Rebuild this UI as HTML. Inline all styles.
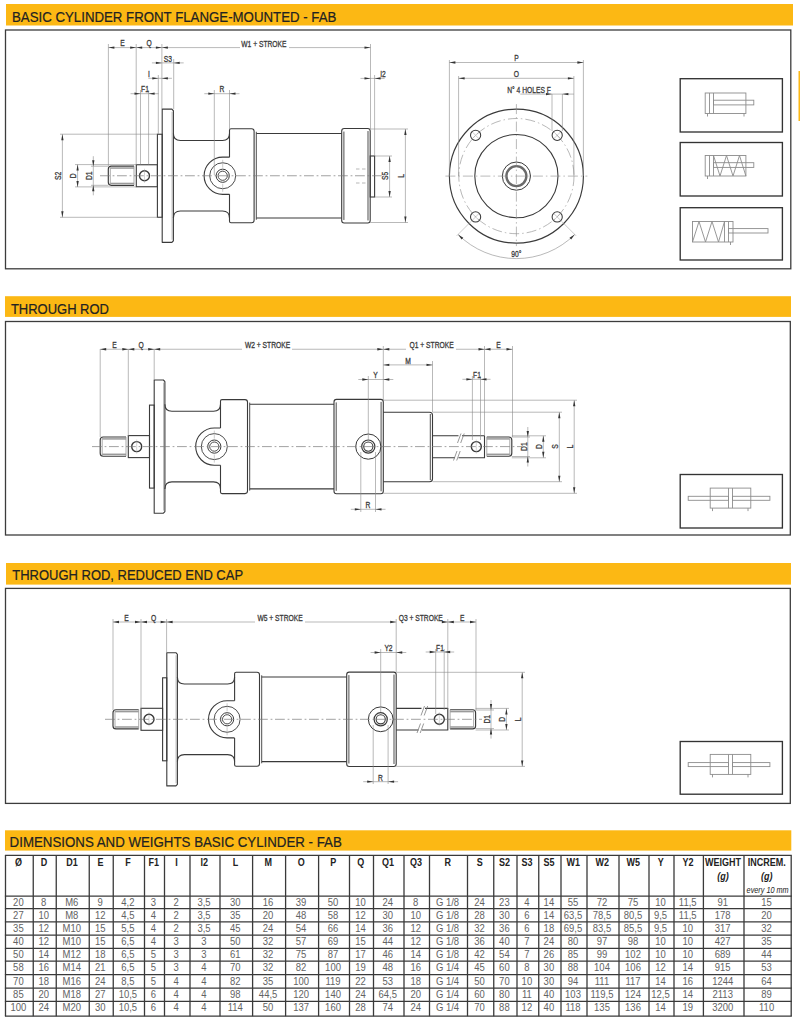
<!DOCTYPE html>
<html><head><meta charset="utf-8"><style>
html,body{margin:0;padding:0;background:#fff;}
body{width:800px;height:1021px;overflow:hidden;position:relative;font-family:"Liberation Sans",sans-serif;}
svg{position:absolute;left:0;top:0;}
svg text{font-family:"Liberation Sans",sans-serif;}
</style></head><body>
<svg width="800" height="1021" viewBox="0 0 800 1021">
<rect x="6" y="4" width="787" height="21.5" fill="#FCB814"/>
<text x="0" y="0" transform="translate(12,21.9) scale(0.9405,1)" font-size="14.1" fill="#222" stroke="#222" stroke-width="0.2">BASIC CYLINDER FRONT FLANGE-MOUNTED - FAB</text>
<rect x="5.5" y="30" width="785.3" height="238.8" fill="none" stroke="#3c3c3c" stroke-width="1.3"/>
<rect x="798.5" y="71" width="2" height="50" fill="#FCB814"/>
<rect x="5" y="296.2" width="786" height="20.7" fill="#FCB814"/>
<text x="0" y="0" transform="translate(10.9,313.6) scale(0.935,1)" font-size="13.9" fill="#222" stroke="#222" stroke-width="0.2">THROUGH ROD</text>
<rect x="5.5" y="321.5" width="784.8" height="213.5" fill="none" stroke="#3c3c3c" stroke-width="1.3"/>
<rect x="6" y="563" width="785" height="21.6" fill="#FCB814"/>
<text x="0" y="0" transform="translate(12.3,580.4) scale(0.935,1)" font-size="13.9" fill="#222" stroke="#222" stroke-width="0.2">THROUGH ROD, REDUCED END CAP</text>
<rect x="5.5" y="588.4" width="784.8" height="215" fill="none" stroke="#3c3c3c" stroke-width="1.3"/>
<rect x="5" y="830.3" width="786.3" height="20.3" fill="#FCB814"/>
<text x="0" y="0" transform="translate(9.6,847) scale(0.9436,1)" font-size="14.1" fill="#222" stroke="#222" stroke-width="0.2">DIMENSIONS AND WEIGHTS BASIC CYLINDER - FAB</text>
<path d="M134.0,166.15 L111.3,166.15 Q108.3,166.15 108.3,169.15 L108.3,182.35 Q108.3,185.35 111.3,185.35 L134.0,185.35" stroke="#3a3a3a" stroke-width="1.15" fill="none" stroke-linejoin="round"/>
<line x1="134.00" y1="166.15" x2="134.00" y2="185.35" stroke="#888" stroke-width="0.7" />
<line x1="110.50" y1="168.05" x2="134.00" y2="168.05" stroke="#9a9a9a" stroke-width="1.5" />
<line x1="110.50" y1="183.45" x2="134.00" y2="183.45" stroke="#9a9a9a" stroke-width="1.5" />
<line x1="110.30" y1="167.35" x2="110.30" y2="184.15" stroke="#888" stroke-width="0.7" />
<rect x="136.30" y="164.75" width="21.10" height="22.00" rx="0" stroke="#3a3a3a" stroke-width="1.1" fill="none"/>
<circle cx="144.50" cy="175.75" r="5.00" stroke="#3a3a3a" stroke-width="1.4" fill="none" />
<line x1="144.50" y1="168.75" x2="144.50" y2="182.75" stroke="#aaa" stroke-width="0.5" />
<rect x="157.40" y="134.25" width="4.80" height="83.00" rx="0" stroke="#3a3a3a" stroke-width="1.1" fill="none"/>
<path d="M162.2,109.15 L171.9,109.15 L173.4,110.75 L173.4,240.75 L171.9,242.35 L162.2,242.35 Z" stroke="#3a3a3a" stroke-width="1.1" fill="none" stroke-linejoin="round"/>
<line x1="172.10" y1="111.75" x2="172.10" y2="239.75" stroke="#888" stroke-width="0.6" />
<path d="M173.4,133.45 Q173.4,140.45 180.4,140.45 L222.5,140.45 Q229.5,140.45 229.5,133.45" stroke="#3a3a3a" stroke-width="1.1" fill="none" stroke-linejoin="round"/>
<path d="M173.4,218.05 Q173.4,211.05 180.4,211.05 L222.5,211.05 Q229.5,211.05 229.5,218.05" stroke="#3a3a3a" stroke-width="1.1" fill="none" stroke-linejoin="round"/>
<path d="M229.5,157.15 L229.5,130.25 Q229.5,128.75 231.0,128.75 L251.6,128.75 Q254.1,128.75 254.1,131.25 L254.1,220.25 Q254.1,222.75 251.6,222.75 L231.0,222.75 Q229.5,222.75 229.5,221.25 L229.5,194.35" stroke="#3a3a3a" stroke-width="1.1" fill="none" stroke-linejoin="round"/>
<path d="M229.5,157.15 L222.7,157.15 A18.6,18.6 0 0 0 222.7,194.35 L229.5,194.35" stroke="#3a3a3a" stroke-width="1.1" fill="none" stroke-linejoin="round"/>
<circle cx="222.70" cy="175.75" r="13.00" stroke="#3a3a3a" stroke-width="0.9" fill="none" />
<circle cx="222.70" cy="175.75" r="6.60" stroke="#3a3a3a" stroke-width="1.0" fill="none" />
<circle cx="222.70" cy="175.75" r="4.60" stroke="#3a3a3a" stroke-width="0.9" fill="none" />
<line x1="222.70" y1="159.75" x2="222.70" y2="167.75" stroke="#999" stroke-width="0.5" />
<line x1="222.70" y1="183.75" x2="222.70" y2="191.75" stroke="#999" stroke-width="0.5" />
<line x1="256.30" y1="131.75" x2="256.30" y2="219.75" stroke="#3a3a3a" stroke-width="0.9" />
<line x1="256.40" y1="133.45" x2="341.70" y2="133.45" stroke="#3a3a3a" stroke-width="1.1" />
<line x1="256.40" y1="218.05" x2="341.70" y2="218.05" stroke="#3a3a3a" stroke-width="1.1" />
<path d="M344.2,128.55 L367.7,128.55 Q370.2,128.55 370.2,131.05 L370.2,220.45 Q370.2,222.95 367.7,222.95 L344.2,222.95 Q341.7,222.95 341.7,220.45 L341.7,131.05 Q341.7,128.55 344.2,128.55 Z" stroke="#3a3a3a" stroke-width="1.1" fill="none" stroke-linejoin="round"/>
<line x1="343.90" y1="131.55" x2="343.90" y2="219.95" stroke="#3a3a3a" stroke-width="0.9" />
<line x1="368.00" y1="131.05" x2="368.00" y2="220.45" stroke="#3a3a3a" stroke-width="0.9" />
<rect x="370.20" y="156.00" width="4.40" height="41.00" rx="0" stroke="#3a3a3a" stroke-width="1.1" fill="none"/>
<line x1="356.00" y1="169.00" x2="359.50" y2="169.00" stroke="#999" stroke-width="0.7" />
<line x1="362.00" y1="169.00" x2="365.50" y2="169.00" stroke="#999" stroke-width="0.7" />
<line x1="356.00" y1="183.00" x2="359.50" y2="183.00" stroke="#999" stroke-width="0.7" />
<line x1="362.00" y1="183.00" x2="365.50" y2="183.00" stroke="#999" stroke-width="0.7" />
<line x1="100.00" y1="175.75" x2="382.00" y2="175.75" stroke="#7a7a7a" stroke-width="0.7" stroke-dasharray="9.8,2.8,1.8,2.6"/>
<line x1="108.40" y1="44.00" x2="108.40" y2="166.00" stroke="#8a8a8a" stroke-width="0.6" />
<line x1="136.20" y1="44.00" x2="136.20" y2="164.50" stroke="#8a8a8a" stroke-width="0.6" />
<line x1="140.50" y1="90.00" x2="140.50" y2="164.50" stroke="#8a8a8a" stroke-width="0.6" />
<line x1="148.60" y1="90.00" x2="148.60" y2="164.50" stroke="#8a8a8a" stroke-width="0.6" />
<line x1="158.30" y1="75.00" x2="158.30" y2="134.00" stroke="#8a8a8a" stroke-width="0.6" />
<line x1="161.90" y1="44.00" x2="161.90" y2="109.00" stroke="#8a8a8a" stroke-width="0.6" />
<line x1="173.70" y1="59.00" x2="173.70" y2="109.00" stroke="#8a8a8a" stroke-width="0.6" />
<line x1="214.30" y1="90.00" x2="214.30" y2="175.00" stroke="#8a8a8a" stroke-width="0.6" />
<line x1="229.50" y1="90.00" x2="229.50" y2="129.00" stroke="#8a8a8a" stroke-width="0.6" />
<line x1="370.50" y1="44.00" x2="370.50" y2="129.00" stroke="#8a8a8a" stroke-width="0.6" />
<line x1="374.60" y1="75.00" x2="374.60" y2="156.00" stroke="#8a8a8a" stroke-width="0.6" />
<line x1="108.40" y1="47.60" x2="136.20" y2="47.60" stroke="#8a8a8a" stroke-width="0.6" />
<polygon points="108.40,47.60 114.40,46.45 114.40,48.75" fill="#333"/>
<polygon points="136.20,47.60 130.20,46.45 130.20,48.75" fill="#333"/>
<line x1="136.20" y1="47.60" x2="161.90" y2="47.60" stroke="#8a8a8a" stroke-width="0.6" />
<polygon points="136.20,47.60 142.20,46.45 142.20,48.75" fill="#333"/>
<polygon points="161.90,47.60 155.90,46.45 155.90,48.75" fill="#333"/>
<line x1="161.90" y1="47.60" x2="240.00" y2="47.60" stroke="#8a8a8a" stroke-width="0.6" />
<line x1="289.00" y1="47.60" x2="370.50" y2="47.60" stroke="#8a8a8a" stroke-width="0.6" />
<polygon points="161.90,47.60 167.90,46.45 167.90,48.75" fill="#333"/>
<polygon points="370.50,47.60 364.50,46.45 364.50,48.75" fill="#333"/>
<text x="0" y="0" transform="translate(122.50,46.40) scale(0.78,1)" font-size="8.6" text-anchor="middle" fill="#3a3a3a" stroke="#3a3a3a" stroke-width="0.3" font-weight="normal">E</text>
<text x="0" y="0" transform="translate(149.00,46.40) scale(0.78,1)" font-size="8.6" text-anchor="middle" fill="#3a3a3a" stroke="#3a3a3a" stroke-width="0.3" font-weight="normal">Q</text>
<text x="0" y="0" transform="translate(263.90,46.60) scale(0.78,1)" font-size="8.6" text-anchor="middle" fill="#3a3a3a" stroke="#3a3a3a" stroke-width="0.3" font-weight="normal">W1 + STROKE</text>
<line x1="151.90" y1="62.90" x2="183.70" y2="62.90" stroke="#8a8a8a" stroke-width="0.6" />
<polygon points="161.90,62.90 155.90,61.75 155.90,64.05" fill="#333"/>
<polygon points="173.70,62.90 179.70,61.75 179.70,64.05" fill="#333"/>
<text x="0" y="0" transform="translate(167.80,61.50) scale(0.78,1)" font-size="8.6" text-anchor="middle" fill="#3a3a3a" stroke="#3a3a3a" stroke-width="0.3" font-weight="normal">S3</text>
<line x1="148.30" y1="78.30" x2="171.90" y2="78.30" stroke="#8a8a8a" stroke-width="0.6" />
<polygon points="158.30,78.30 152.30,77.15 152.30,79.45" fill="#333"/>
<polygon points="161.90,78.30 167.90,77.15 167.90,79.45" fill="#333"/>
<text x="0" y="0" transform="translate(149.00,76.90) scale(0.78,1)" font-size="8.6" text-anchor="middle" fill="#3a3a3a" stroke="#3a3a3a" stroke-width="0.3" font-weight="normal">I</text>
<line x1="130.50" y1="93.70" x2="158.60" y2="93.70" stroke="#8a8a8a" stroke-width="0.6" />
<polygon points="140.50,93.70 134.50,92.55 134.50,94.85" fill="#333"/>
<polygon points="148.60,93.70 154.60,92.55 154.60,94.85" fill="#333"/>
<text x="0" y="0" transform="translate(145.00,92.30) scale(0.78,1)" font-size="8.6" text-anchor="middle" fill="#3a3a3a" stroke="#3a3a3a" stroke-width="0.3" font-weight="normal">F1</text>
<line x1="204.30" y1="93.70" x2="239.50" y2="93.70" stroke="#8a8a8a" stroke-width="0.6" />
<polygon points="214.30,93.70 208.30,92.55 208.30,94.85" fill="#333"/>
<polygon points="229.50,93.70 235.50,92.55 235.50,94.85" fill="#333"/>
<text x="0" y="0" transform="translate(222.00,92.30) scale(0.78,1)" font-size="8.6" text-anchor="middle" fill="#3a3a3a" stroke="#3a3a3a" stroke-width="0.3" font-weight="normal">R</text>
<line x1="360.50" y1="78.40" x2="384.60" y2="78.40" stroke="#8a8a8a" stroke-width="0.6" />
<polygon points="370.50,78.40 364.50,77.25 364.50,79.55" fill="#333"/>
<polygon points="374.60,78.40 380.60,77.25 380.60,79.55" fill="#333"/>
<text x="0" y="0" transform="translate(383.00,77.00) scale(0.78,1)" font-size="8.6" text-anchor="middle" fill="#3a3a3a" stroke="#3a3a3a" stroke-width="0.3" font-weight="normal">I2</text>
<line x1="60.00" y1="134.20" x2="157.40" y2="134.20" stroke="#8a8a8a" stroke-width="0.6" />
<line x1="60.00" y1="217.30" x2="157.40" y2="217.30" stroke="#8a8a8a" stroke-width="0.6" />
<line x1="62.40" y1="134.20" x2="62.40" y2="217.30" stroke="#8a8a8a" stroke-width="0.6" />
<polygon points="62.40,134.20 61.25,140.20 63.55,140.20" fill="#333"/>
<polygon points="62.40,217.30 61.25,211.30 63.55,211.30" fill="#333"/>
<text x="0" y="0" transform="translate(61.20,175.80) rotate(-90) scale(0.78,1)" font-size="8.6" text-anchor="middle" fill="#3a3a3a" stroke="#3a3a3a" stroke-width="0.3" font-weight="normal">S2</text>
<line x1="75.00" y1="164.60" x2="136.30" y2="164.60" stroke="#8a8a8a" stroke-width="0.6" />
<line x1="75.00" y1="186.90" x2="136.30" y2="186.90" stroke="#8a8a8a" stroke-width="0.6" />
<line x1="77.60" y1="164.60" x2="77.60" y2="186.90" stroke="#8a8a8a" stroke-width="0.6" />
<polygon points="77.60,164.60 76.45,170.60 78.75,170.60" fill="#333"/>
<polygon points="77.60,186.90 76.45,180.90 78.75,180.90" fill="#333"/>
<text x="0" y="0" transform="translate(76.40,175.80) rotate(-90) scale(0.78,1)" font-size="8.6" text-anchor="middle" fill="#3a3a3a" stroke="#3a3a3a" stroke-width="0.3" font-weight="normal">D</text>
<line x1="91.00" y1="166.20" x2="108.40" y2="166.20" stroke="#8a8a8a" stroke-width="0.6" />
<line x1="91.00" y1="185.30" x2="108.40" y2="185.30" stroke="#8a8a8a" stroke-width="0.6" />
<line x1="93.30" y1="156.20" x2="93.30" y2="195.30" stroke="#8a8a8a" stroke-width="0.6" />
<polygon points="93.30,166.20 92.15,160.20 94.45,160.20" fill="#333"/>
<polygon points="93.30,185.30 92.15,191.30 94.45,191.30" fill="#333"/>
<text x="0" y="0" transform="translate(92.10,175.80) rotate(-90) scale(0.78,1)" font-size="8.6" text-anchor="middle" fill="#3a3a3a" stroke="#3a3a3a" stroke-width="0.3" font-weight="normal">D1</text>
<line x1="374.60" y1="156.00" x2="392.00" y2="156.00" stroke="#8a8a8a" stroke-width="0.6" />
<line x1="374.60" y1="197.00" x2="392.00" y2="197.00" stroke="#8a8a8a" stroke-width="0.6" />
<line x1="389.60" y1="156.00" x2="389.60" y2="197.00" stroke="#8a8a8a" stroke-width="0.6" />
<polygon points="389.60,156.00 388.45,162.00 390.75,162.00" fill="#333"/>
<polygon points="389.60,197.00 388.45,191.00 390.75,191.00" fill="#333"/>
<text x="0" y="0" transform="translate(388.40,175.80) rotate(-90) scale(0.78,1)" font-size="8.6" text-anchor="middle" fill="#3a3a3a" stroke="#3a3a3a" stroke-width="0.3" font-weight="normal">S5</text>
<line x1="370.20" y1="129.00" x2="408.00" y2="129.00" stroke="#8a8a8a" stroke-width="0.6" />
<line x1="370.20" y1="222.50" x2="408.00" y2="222.50" stroke="#8a8a8a" stroke-width="0.6" />
<line x1="405.40" y1="129.00" x2="405.40" y2="222.50" stroke="#8a8a8a" stroke-width="0.6" />
<polygon points="405.40,129.00 404.25,135.00 406.55,135.00" fill="#333"/>
<polygon points="405.40,222.50 404.25,216.50 406.55,216.50" fill="#333"/>
<text x="0" y="0" transform="translate(404.20,175.80) rotate(-90) scale(0.78,1)" font-size="8.6" text-anchor="middle" fill="#3a3a3a" stroke="#3a3a3a" stroke-width="0.3" font-weight="normal">L</text>
<circle cx="516.40" cy="176.10" r="67.00" stroke="#3a3a3a" stroke-width="1.15" fill="none" />
<circle cx="516.40" cy="176.10" r="57.60" stroke="#9a9a9a" stroke-width="0.7" fill="none" stroke-dasharray="10,3,1.5,3"/>
<circle cx="516.40" cy="176.10" r="41.60" stroke="#3a3a3a" stroke-width="1.1" fill="none" />
<circle cx="516.40" cy="176.10" r="14.10" stroke="#3a3a3a" stroke-width="1.0" fill="none" />
<circle cx="516.40" cy="176.10" r="10.00" stroke="#6a6a6a" stroke-width="2.4" fill="none" />
<line x1="445.40" y1="176.10" x2="587.40" y2="176.10" stroke="#8a8a8a" stroke-width="0.6" stroke-dasharray="10,3,1.5,3"/>
<line x1="516.40" y1="104.10" x2="516.40" y2="246.10" stroke="#8a8a8a" stroke-width="0.6" stroke-dasharray="10,3,1.5,3"/>
<circle cx="475.60" cy="135.30" r="5.10" stroke="#3a3a3a" stroke-width="1.05" fill="none" />
<line x1="472.00" y1="131.70" x2="479.20" y2="138.90" stroke="#999" stroke-width="0.5" />
<line x1="472.00" y1="138.90" x2="479.20" y2="131.70" stroke="#999" stroke-width="0.5" />
<circle cx="475.60" cy="216.90" r="5.10" stroke="#3a3a3a" stroke-width="1.05" fill="none" />
<line x1="472.00" y1="213.30" x2="479.20" y2="220.50" stroke="#999" stroke-width="0.5" />
<line x1="472.00" y1="220.50" x2="479.20" y2="213.30" stroke="#999" stroke-width="0.5" />
<circle cx="557.20" cy="135.30" r="5.10" stroke="#3a3a3a" stroke-width="1.05" fill="none" />
<line x1="553.60" y1="131.70" x2="560.80" y2="138.90" stroke="#999" stroke-width="0.5" />
<line x1="553.60" y1="138.90" x2="560.80" y2="131.70" stroke="#999" stroke-width="0.5" />
<circle cx="557.20" cy="216.90" r="5.10" stroke="#3a3a3a" stroke-width="1.05" fill="none" />
<line x1="553.60" y1="213.30" x2="560.80" y2="220.50" stroke="#999" stroke-width="0.5" />
<line x1="553.60" y1="220.50" x2="560.80" y2="213.30" stroke="#999" stroke-width="0.5" />
<line x1="449.40" y1="60.00" x2="449.40" y2="176.00" stroke="#8a8a8a" stroke-width="0.6" />
<line x1="583.40" y1="60.00" x2="583.40" y2="176.00" stroke="#8a8a8a" stroke-width="0.6" />
<line x1="449.40" y1="62.50" x2="583.40" y2="62.50" stroke="#8a8a8a" stroke-width="0.6" />
<polygon points="449.40,62.50 455.40,61.35 455.40,63.65" fill="#333"/>
<polygon points="583.40,62.50 577.40,61.35 577.40,63.65" fill="#333"/>
<text x="0" y="0" transform="translate(516.40,61.20) scale(0.78,1)" font-size="8.6" text-anchor="middle" fill="#3a3a3a" stroke="#3a3a3a" stroke-width="0.3" font-weight="normal">P</text>
<line x1="458.60" y1="76.00" x2="458.60" y2="176.00" stroke="#8a8a8a" stroke-width="0.6" />
<line x1="573.90" y1="76.00" x2="573.90" y2="176.00" stroke="#8a8a8a" stroke-width="0.6" />
<line x1="458.60" y1="78.30" x2="573.90" y2="78.30" stroke="#8a8a8a" stroke-width="0.6" />
<polygon points="458.60,78.30 464.60,77.15 464.60,79.45" fill="#333"/>
<polygon points="573.90,78.30 567.90,77.15 567.90,79.45" fill="#333"/>
<text x="0" y="0" transform="translate(516.40,77.00) scale(0.78,1)" font-size="8.6" text-anchor="middle" fill="#3a3a3a" stroke="#3a3a3a" stroke-width="0.3" font-weight="normal">O</text>
<line x1="552.00" y1="94.00" x2="552.00" y2="131.00" stroke="#8a8a8a" stroke-width="0.6" />
<line x1="562.40" y1="94.00" x2="562.40" y2="131.00" stroke="#8a8a8a" stroke-width="0.6" />
<line x1="520.30" y1="94.10" x2="573.90" y2="94.10" stroke="#8a8a8a" stroke-width="0.6" />
<polygon points="552.00,94.10 546.00,92.95 546.00,95.25" fill="#333"/>
<polygon points="562.40,94.10 568.40,92.95 568.40,95.25" fill="#333"/>
<text x="0" y="0" transform="translate(529.00,92.70) scale(0.78,1)" font-size="8.6" text-anchor="middle" fill="#3a3a3a" stroke="#3a3a3a" stroke-width="0.3" font-weight="normal">N° 4 HOLES F</text>
<path d="M458.06,234.44 A82.5,82.5 0 0 0 574.74,234.44" stroke="#8a8a8a" stroke-width="0.6" fill="none"/>
<line x1="471.15" y1="221.35" x2="456.65" y2="235.85" stroke="#aaa" stroke-width="0.6" />
<line x1="561.65" y1="221.35" x2="576.15" y2="235.85" stroke="#aaa" stroke-width="0.6" />
<text x="0" y="0" transform="translate(516.40,256.70) scale(0.78,1)" font-size="8.6" text-anchor="middle" fill="#3a3a3a" stroke="#3a3a3a" stroke-width="0.3" font-weight="normal">90°</text>
<polygon points="458.06,234.44 461.63,239.41 463.27,237.65" fill="#333"/>
<polygon points="574.74,234.44 569.53,237.65 571.17,239.41" fill="#333"/>
<path d="M126.00000000000001,437.0 L103.2,437.0 Q100.2,437.0 100.2,440.0 L100.2,453.20000000000005 Q100.2,456.20000000000005 103.2,456.20000000000005 L126.00000000000001,456.20000000000005" stroke="#3a3a3a" stroke-width="1.15" fill="none" stroke-linejoin="round"/>
<line x1="126.00" y1="437.00" x2="126.00" y2="456.20" stroke="#888" stroke-width="0.7" />
<line x1="102.40" y1="438.90" x2="126.00" y2="438.90" stroke="#9a9a9a" stroke-width="1.5" />
<line x1="102.40" y1="454.30" x2="126.00" y2="454.30" stroke="#9a9a9a" stroke-width="1.5" />
<line x1="102.20" y1="438.20" x2="102.20" y2="455.00" stroke="#888" stroke-width="0.7" />
<rect x="128.30" y="435.60" width="21.20" height="22.00" rx="0" stroke="#3a3a3a" stroke-width="1.1" fill="none"/>
<circle cx="136.70" cy="446.60" r="5.00" stroke="#3a3a3a" stroke-width="1.4" fill="none" />
<line x1="136.70" y1="439.60" x2="136.70" y2="453.60" stroke="#aaa" stroke-width="0.5" />
<rect x="149.50" y="405.10" width="4.70" height="83.00" rx="0" stroke="#3a3a3a" stroke-width="1.1" fill="none"/>
<path d="M154.2,380.0 L163.4,380.0 L164.9,381.6 L164.9,511.6 L163.4,513.2 L154.2,513.2 Z" stroke="#3a3a3a" stroke-width="1.1" fill="none" stroke-linejoin="round"/>
<line x1="163.60" y1="382.60" x2="163.60" y2="510.60" stroke="#888" stroke-width="0.6" />
<path d="M164.9,404.3 Q164.9,411.3 171.9,411.3 L213.5,411.3 Q220.5,411.3 220.5,404.3" stroke="#3a3a3a" stroke-width="1.1" fill="none" stroke-linejoin="round"/>
<path d="M164.9,488.90000000000003 Q164.9,481.90000000000003 171.9,481.90000000000003 L213.5,481.90000000000003 Q220.5,481.90000000000003 220.5,488.90000000000003" stroke="#3a3a3a" stroke-width="1.1" fill="none" stroke-linejoin="round"/>
<path d="M220.5,428.0 L220.5,401.1 Q220.5,399.6 222.0,399.6 L245.0,399.6 Q247.5,399.6 247.5,402.1 L247.5,491.1 Q247.5,493.6 245.0,493.6 L222.0,493.6 Q220.5,493.6 220.5,492.1 L220.5,465.20000000000005" stroke="#3a3a3a" stroke-width="1.1" fill="none" stroke-linejoin="round"/>
<path d="M220.5,428.0 L214.3,428.0 A18.6,18.6 0 0 0 214.3,465.20000000000005 L220.5,465.20000000000005" stroke="#3a3a3a" stroke-width="1.1" fill="none" stroke-linejoin="round"/>
<circle cx="214.30" cy="446.60" r="13.00" stroke="#3a3a3a" stroke-width="0.9" fill="none" />
<circle cx="214.30" cy="446.60" r="6.60" stroke="#3a3a3a" stroke-width="1.0" fill="none" />
<circle cx="214.30" cy="446.60" r="4.60" stroke="#3a3a3a" stroke-width="0.9" fill="none" />
<line x1="214.30" y1="430.60" x2="214.30" y2="438.60" stroke="#999" stroke-width="0.5" />
<line x1="214.30" y1="454.60" x2="214.30" y2="462.60" stroke="#999" stroke-width="0.5" />
<line x1="249.70" y1="402.60" x2="249.70" y2="490.60" stroke="#3a3a3a" stroke-width="0.9" />
<line x1="249.80" y1="404.30" x2="334.00" y2="404.30" stroke="#3a3a3a" stroke-width="1.1" />
<line x1="249.80" y1="488.90" x2="334.00" y2="488.90" stroke="#3a3a3a" stroke-width="1.1" />
<path d="M336.5,399.40000000000003 L380.8,399.40000000000003 Q383.3,399.40000000000003 383.3,401.90000000000003 L383.3,491.3 Q383.3,493.8 380.8,493.8 L336.5,493.8 Q334,493.8 334,491.3 L334,401.90000000000003 Q334,399.40000000000003 336.5,399.40000000000003 Z" stroke="#3a3a3a" stroke-width="1.1" fill="none" stroke-linejoin="round"/>
<line x1="336.20" y1="402.40" x2="336.20" y2="490.80" stroke="#3a3a3a" stroke-width="0.9" />
<line x1="381.10" y1="401.90" x2="381.10" y2="491.30" stroke="#3a3a3a" stroke-width="0.9" />
<circle cx="368.30" cy="446.60" r="12.60" stroke="#3a3a3a" stroke-width="1.0" fill="none" />
<circle cx="368.30" cy="446.60" r="6.60" stroke="#3a3a3a" stroke-width="1.2" fill="none" />
<circle cx="368.30" cy="446.60" r="4.60" stroke="#3a3a3a" stroke-width="1.1" fill="none" />
<path d="M383.3,412.2 L429.5,412.2 Q432.5,412.2 432.5,415.2 L432.5,478.7 Q432.5,481.7 429.5,481.7 L383.3,481.7" stroke="#3a3a3a" stroke-width="1.1" fill="none" stroke-linejoin="round"/>
<line x1="430.30" y1="414.00" x2="430.30" y2="480.00" stroke="#3a3a3a" stroke-width="0.9" />
<path d="M432.5,435.8 L458.5,435.8 M462,435.8 L484.5,435.8 L484.5,457.8 L458.5,457.8 M455,457.8 L432.5,457.8" stroke="#3a3a3a" stroke-width="1.1" fill="none" stroke-linejoin="round"/>
<line x1="457.50" y1="443.00" x2="461.00" y2="433.50" stroke="#777" stroke-width="0.75" />
<line x1="453.50" y1="460.50" x2="457.00" y2="451.00" stroke="#777" stroke-width="0.75" />
<line x1="460.70" y1="443.00" x2="464.20" y2="433.50" stroke="#777" stroke-width="0.75" />
<line x1="456.70" y1="460.50" x2="460.20" y2="451.00" stroke="#777" stroke-width="0.75" />
<circle cx="476.30" cy="446.60" r="5.00" stroke="#3a3a3a" stroke-width="1.4" fill="none" />
<line x1="476.30" y1="439.60" x2="476.30" y2="453.60" stroke="#aaa" stroke-width="0.5" />
<path d="M486.8,437.0 L508.8,437.0 Q511.8,437.0 511.8,440.0 L511.8,453.20000000000005 Q511.8,456.20000000000005 508.8,456.20000000000005 L486.8,456.20000000000005" stroke="#3a3a3a" stroke-width="1.15" fill="none" stroke-linejoin="round"/>
<line x1="486.80" y1="437.00" x2="486.80" y2="456.20" stroke="#888" stroke-width="0.7" />
<line x1="486.80" y1="438.90" x2="509.60" y2="438.90" stroke="#9a9a9a" stroke-width="1.5" />
<line x1="486.80" y1="454.30" x2="509.60" y2="454.30" stroke="#9a9a9a" stroke-width="1.5" />
<line x1="509.80" y1="438.20" x2="509.80" y2="455.00" stroke="#888" stroke-width="0.7" />
<line x1="92.00" y1="446.60" x2="522.00" y2="446.60" stroke="#7a7a7a" stroke-width="0.7" stroke-dasharray="9.8,2.8,1.8,2.6"/>
<line x1="100.20" y1="349.00" x2="100.20" y2="437.00" stroke="#8a8a8a" stroke-width="0.6" />
<line x1="128.30" y1="349.00" x2="128.30" y2="436.00" stroke="#8a8a8a" stroke-width="0.6" />
<line x1="154.20" y1="349.00" x2="154.20" y2="380.00" stroke="#8a8a8a" stroke-width="0.6" />
<line x1="383.30" y1="346.00" x2="383.30" y2="400.00" stroke="#8a8a8a" stroke-width="0.6" />
<line x1="432.50" y1="361.00" x2="432.50" y2="412.00" stroke="#8a8a8a" stroke-width="0.6" />
<line x1="368.30" y1="376.00" x2="368.30" y2="440.00" stroke="#8a8a8a" stroke-width="0.6" />
<line x1="360.80" y1="452.00" x2="360.80" y2="512.00" stroke="#8a8a8a" stroke-width="0.6" />
<line x1="375.50" y1="452.00" x2="375.50" y2="512.00" stroke="#8a8a8a" stroke-width="0.6" />
<line x1="472.40" y1="376.00" x2="472.40" y2="440.00" stroke="#8a8a8a" stroke-width="0.6" />
<line x1="480.50" y1="376.00" x2="480.50" y2="440.00" stroke="#8a8a8a" stroke-width="0.6" />
<line x1="484.50" y1="346.00" x2="484.50" y2="436.00" stroke="#8a8a8a" stroke-width="0.6" />
<line x1="512.50" y1="346.00" x2="512.50" y2="437.00" stroke="#8a8a8a" stroke-width="0.6" />
<line x1="100.20" y1="349.25" x2="128.30" y2="349.25" stroke="#8a8a8a" stroke-width="0.6" />
<polygon points="100.20,349.25 106.20,348.10 106.20,350.40" fill="#333"/>
<polygon points="128.30,349.25 122.30,348.10 122.30,350.40" fill="#333"/>
<line x1="128.30" y1="349.25" x2="154.20" y2="349.25" stroke="#8a8a8a" stroke-width="0.6" />
<polygon points="128.30,349.25 134.30,348.10 134.30,350.40" fill="#333"/>
<polygon points="154.20,349.25 148.20,348.10 148.20,350.40" fill="#333"/>
<line x1="154.20" y1="349.25" x2="242.00" y2="349.25" stroke="#8a8a8a" stroke-width="0.6" />
<line x1="292.00" y1="349.25" x2="383.30" y2="349.25" stroke="#8a8a8a" stroke-width="0.6" />
<polygon points="154.20,349.25 160.20,348.10 160.20,350.40" fill="#333"/>
<polygon points="383.30,349.25 377.30,348.10 377.30,350.40" fill="#333"/>
<text x="0" y="0" transform="translate(114.40,347.60) scale(0.78,1)" font-size="8.6" text-anchor="middle" fill="#3a3a3a" stroke="#3a3a3a" stroke-width="0.3" font-weight="normal">E</text>
<text x="0" y="0" transform="translate(141.00,347.60) scale(0.78,1)" font-size="8.6" text-anchor="middle" fill="#3a3a3a" stroke="#3a3a3a" stroke-width="0.3" font-weight="normal">Q</text>
<text x="0" y="0" transform="translate(267.50,347.60) scale(0.78,1)" font-size="8.6" text-anchor="middle" fill="#3a3a3a" stroke="#3a3a3a" stroke-width="0.3" font-weight="normal">W2 + STROKE</text>
<line x1="383.30" y1="349.25" x2="406.00" y2="349.25" stroke="#8a8a8a" stroke-width="0.6" />
<line x1="456.00" y1="349.25" x2="484.50" y2="349.25" stroke="#8a8a8a" stroke-width="0.6" />
<polygon points="383.30,349.25 389.30,348.10 389.30,350.40" fill="#333"/>
<polygon points="484.50,349.25 478.50,348.10 478.50,350.40" fill="#333"/>
<text x="0" y="0" transform="translate(431.60,347.60) scale(0.78,1)" font-size="8.6" text-anchor="middle" fill="#3a3a3a" stroke="#3a3a3a" stroke-width="0.3" font-weight="normal">Q1 + STROKE</text>
<line x1="484.50" y1="349.25" x2="512.50" y2="349.25" stroke="#8a8a8a" stroke-width="0.6" />
<polygon points="484.50,349.25 490.50,348.10 490.50,350.40" fill="#333"/>
<polygon points="512.50,349.25 506.50,348.10 506.50,350.40" fill="#333"/>
<text x="0" y="0" transform="translate(498.60,347.60) scale(0.78,1)" font-size="8.6" text-anchor="middle" fill="#3a3a3a" stroke="#3a3a3a" stroke-width="0.3" font-weight="normal">E</text>
<line x1="383.30" y1="364.90" x2="432.50" y2="364.90" stroke="#8a8a8a" stroke-width="0.6" />
<polygon points="383.30,364.90 389.30,363.75 389.30,366.05" fill="#333"/>
<polygon points="432.50,364.90 426.50,363.75 426.50,366.05" fill="#333"/>
<text x="0" y="0" transform="translate(408.00,363.70) scale(0.78,1)" font-size="8.6" text-anchor="middle" fill="#3a3a3a" stroke="#3a3a3a" stroke-width="0.3" font-weight="normal">M</text>
<line x1="358.30" y1="379.50" x2="393.30" y2="379.50" stroke="#8a8a8a" stroke-width="0.6" />
<polygon points="368.30,379.50 362.30,378.35 362.30,380.65" fill="#333"/>
<polygon points="383.30,379.50 389.30,378.35 389.30,380.65" fill="#333"/>
<text x="0" y="0" transform="translate(375.50,378.30) scale(0.78,1)" font-size="8.6" text-anchor="middle" fill="#3a3a3a" stroke="#3a3a3a" stroke-width="0.3" font-weight="normal">Y</text>
<line x1="462.40" y1="379.30" x2="490.50" y2="379.30" stroke="#8a8a8a" stroke-width="0.6" />
<polygon points="472.40,379.30 466.40,378.15 466.40,380.45" fill="#333"/>
<polygon points="480.50,379.30 486.50,378.15 486.50,380.45" fill="#333"/>
<text x="0" y="0" transform="translate(477.00,378.10) scale(0.78,1)" font-size="8.6" text-anchor="middle" fill="#3a3a3a" stroke="#3a3a3a" stroke-width="0.3" font-weight="normal">F1</text>
<line x1="350.80" y1="509.30" x2="385.50" y2="509.30" stroke="#8a8a8a" stroke-width="0.6" />
<polygon points="360.80,509.30 354.80,508.15 354.80,510.45" fill="#333"/>
<polygon points="375.50,509.30 381.50,508.15 381.50,510.45" fill="#333"/>
<text x="0" y="0" transform="translate(368.00,508.10) scale(0.78,1)" font-size="8.6" text-anchor="middle" fill="#3a3a3a" stroke="#3a3a3a" stroke-width="0.3" font-weight="normal">R</text>
<line x1="383.30" y1="400.20" x2="577.00" y2="400.20" stroke="#8a8a8a" stroke-width="0.6" />
<line x1="383.30" y1="493.30" x2="577.00" y2="493.30" stroke="#8a8a8a" stroke-width="0.6" />
<line x1="574.20" y1="400.20" x2="574.20" y2="493.30" stroke="#8a8a8a" stroke-width="0.6" />
<polygon points="574.20,400.20 573.05,406.20 575.35,406.20" fill="#333"/>
<polygon points="574.20,493.30 573.05,487.30 575.35,487.30" fill="#333"/>
<text x="0" y="0" transform="translate(573.00,446.60) rotate(-90) scale(0.78,1)" font-size="8.6" text-anchor="middle" fill="#3a3a3a" stroke="#3a3a3a" stroke-width="0.3" font-weight="normal">L</text>
<line x1="432.50" y1="412.20" x2="562.00" y2="412.20" stroke="#8a8a8a" stroke-width="0.6" />
<line x1="432.50" y1="481.70" x2="562.00" y2="481.70" stroke="#8a8a8a" stroke-width="0.6" />
<line x1="559.30" y1="412.20" x2="559.30" y2="481.70" stroke="#8a8a8a" stroke-width="0.6" />
<polygon points="559.30,412.20 558.15,418.20 560.45,418.20" fill="#333"/>
<polygon points="559.30,481.70 558.15,475.70 560.45,475.70" fill="#333"/>
<text x="0" y="0" transform="translate(558.10,446.60) rotate(-90) scale(0.78,1)" font-size="8.6" text-anchor="middle" fill="#3a3a3a" stroke="#3a3a3a" stroke-width="0.3" font-weight="normal">S</text>
<line x1="511.80" y1="435.80" x2="546.00" y2="435.80" stroke="#8a8a8a" stroke-width="0.6" />
<line x1="511.80" y1="457.80" x2="546.00" y2="457.80" stroke="#8a8a8a" stroke-width="0.6" />
<line x1="543.30" y1="435.80" x2="543.30" y2="457.80" stroke="#8a8a8a" stroke-width="0.6" />
<polygon points="543.30,435.80 542.15,441.80 544.45,441.80" fill="#333"/>
<polygon points="543.30,457.80 542.15,451.80 544.45,451.80" fill="#333"/>
<text x="0" y="0" transform="translate(542.10,446.60) rotate(-90) scale(0.78,1)" font-size="8.6" text-anchor="middle" fill="#3a3a3a" stroke="#3a3a3a" stroke-width="0.3" font-weight="normal">D</text>
<line x1="511.80" y1="437.00" x2="530.00" y2="437.00" stroke="#8a8a8a" stroke-width="0.6" />
<line x1="511.80" y1="456.50" x2="530.00" y2="456.50" stroke="#8a8a8a" stroke-width="0.6" />
<line x1="527.80" y1="427.00" x2="527.80" y2="466.50" stroke="#8a8a8a" stroke-width="0.6" />
<polygon points="527.80,437.00 526.65,431.00 528.95,431.00" fill="#333"/>
<polygon points="527.80,456.50 526.65,462.50 528.95,462.50" fill="#333"/>
<text x="0" y="0" transform="translate(526.60,446.60) rotate(-90) scale(0.78,1)" font-size="8.6" text-anchor="middle" fill="#3a3a3a" stroke="#3a3a3a" stroke-width="0.3" font-weight="normal">D1</text>
<path d="M138.7,709.6999999999999 L116,709.6999999999999 Q113,709.6999999999999 113,712.6999999999999 L113,725.9 Q113,728.9 116,728.9 L138.7,728.9" stroke="#3a3a3a" stroke-width="1.15" fill="none" stroke-linejoin="round"/>
<line x1="138.70" y1="709.70" x2="138.70" y2="728.90" stroke="#888" stroke-width="0.7" />
<line x1="115.20" y1="711.60" x2="138.70" y2="711.60" stroke="#9a9a9a" stroke-width="1.5" />
<line x1="115.20" y1="727.00" x2="138.70" y2="727.00" stroke="#9a9a9a" stroke-width="1.5" />
<line x1="115.00" y1="710.90" x2="115.00" y2="727.70" stroke="#888" stroke-width="0.7" />
<rect x="141.00" y="708.30" width="21.60" height="22.00" rx="0" stroke="#3a3a3a" stroke-width="1.1" fill="none"/>
<circle cx="149.00" cy="719.30" r="5.00" stroke="#3a3a3a" stroke-width="1.4" fill="none" />
<line x1="149.00" y1="712.30" x2="149.00" y2="726.30" stroke="#aaa" stroke-width="0.5" />
<rect x="162.60" y="677.80" width="4.20" height="83.00" rx="0" stroke="#3a3a3a" stroke-width="1.1" fill="none"/>
<path d="M166.8,652.6999999999999 L175.9,652.6999999999999 L177.4,654.3 L177.4,784.3 L175.9,785.9 L166.8,785.9 Z" stroke="#3a3a3a" stroke-width="1.1" fill="none" stroke-linejoin="round"/>
<line x1="176.10" y1="655.30" x2="176.10" y2="783.30" stroke="#888" stroke-width="0.6" />
<path d="M177.4,677.0 Q177.4,684.0 184.4,684.0 L227.6,684.0 Q234.6,684.0 234.6,677.0" stroke="#3a3a3a" stroke-width="1.1" fill="none" stroke-linejoin="round"/>
<path d="M177.4,761.5999999999999 Q177.4,754.5999999999999 184.4,754.5999999999999 L227.6,754.5999999999999 Q234.6,754.5999999999999 234.6,761.5999999999999" stroke="#3a3a3a" stroke-width="1.1" fill="none" stroke-linejoin="round"/>
<path d="M234.6,700.6999999999999 L234.6,673.8 Q234.6,672.3 236.1,672.3 L257.0,672.3 Q259.5,672.3 259.5,674.8 L259.5,763.8 Q259.5,766.3 257.0,766.3 L236.1,766.3 Q234.6,766.3 234.6,764.8 L234.6,737.9" stroke="#3a3a3a" stroke-width="1.1" fill="none" stroke-linejoin="round"/>
<path d="M234.6,700.6999999999999 L227.1,700.6999999999999 A18.6,18.6 0 0 0 227.1,737.9 L234.6,737.9" stroke="#3a3a3a" stroke-width="1.1" fill="none" stroke-linejoin="round"/>
<circle cx="227.10" cy="719.30" r="13.00" stroke="#3a3a3a" stroke-width="0.9" fill="none" />
<circle cx="227.10" cy="719.30" r="6.60" stroke="#3a3a3a" stroke-width="1.0" fill="none" />
<circle cx="227.10" cy="719.30" r="4.60" stroke="#3a3a3a" stroke-width="0.9" fill="none" />
<line x1="227.10" y1="703.30" x2="227.10" y2="711.30" stroke="#999" stroke-width="0.5" />
<line x1="227.10" y1="727.30" x2="227.10" y2="735.30" stroke="#999" stroke-width="0.5" />
<line x1="261.70" y1="675.30" x2="261.70" y2="763.30" stroke="#3a3a3a" stroke-width="0.9" />
<line x1="261.80" y1="677.00" x2="346.70" y2="677.00" stroke="#3a3a3a" stroke-width="1.1" />
<line x1="261.80" y1="761.60" x2="346.70" y2="761.60" stroke="#3a3a3a" stroke-width="1.1" />
<path d="M349.2,672.0999999999999 L393.7,672.0999999999999 Q396.2,672.0999999999999 396.2,674.5999999999999 L396.2,764.0 Q396.2,766.5 393.7,766.5 L349.2,766.5 Q346.7,766.5 346.7,764.0 L346.7,674.5999999999999 Q346.7,672.0999999999999 349.2,672.0999999999999 Z" stroke="#3a3a3a" stroke-width="1.1" fill="none" stroke-linejoin="round"/>
<line x1="348.90" y1="675.10" x2="348.90" y2="763.50" stroke="#3a3a3a" stroke-width="0.9" />
<line x1="394.00" y1="674.60" x2="394.00" y2="764.00" stroke="#3a3a3a" stroke-width="0.9" />
<circle cx="380.70" cy="719.30" r="12.40" stroke="#3a3a3a" stroke-width="1.0" fill="none" />
<circle cx="380.70" cy="719.30" r="6.60" stroke="#3a3a3a" stroke-width="1.2" fill="none" />
<circle cx="380.70" cy="719.30" r="4.60" stroke="#3a3a3a" stroke-width="1.1" fill="none" />
<path d="M396.2,708.4 L421.5,708.4 M425,708.4 L447.8,708.4 L447.8,730 L422,730 M418.5,730 L396.2,730" stroke="#3a3a3a" stroke-width="1.1" fill="none" stroke-linejoin="round"/>
<line x1="421.00" y1="715.50" x2="424.50" y2="706.00" stroke="#777" stroke-width="0.75" />
<line x1="417.00" y1="733.00" x2="420.50" y2="723.50" stroke="#777" stroke-width="0.75" />
<line x1="424.20" y1="715.50" x2="427.70" y2="706.00" stroke="#777" stroke-width="0.75" />
<line x1="420.20" y1="733.00" x2="423.70" y2="723.50" stroke="#777" stroke-width="0.75" />
<circle cx="439.30" cy="719.30" r="5.00" stroke="#3a3a3a" stroke-width="1.4" fill="none" />
<line x1="439.30" y1="712.30" x2="439.30" y2="726.30" stroke="#aaa" stroke-width="0.5" />
<path d="M450.1,709.6999999999999 L472.6,709.6999999999999 Q475.6,709.6999999999999 475.6,712.6999999999999 L475.6,725.9 Q475.6,728.9 472.6,728.9 L450.1,728.9" stroke="#3a3a3a" stroke-width="1.15" fill="none" stroke-linejoin="round"/>
<line x1="450.10" y1="709.70" x2="450.10" y2="728.90" stroke="#888" stroke-width="0.7" />
<line x1="450.10" y1="711.60" x2="473.40" y2="711.60" stroke="#9a9a9a" stroke-width="1.5" />
<line x1="450.10" y1="727.00" x2="473.40" y2="727.00" stroke="#9a9a9a" stroke-width="1.5" />
<line x1="473.60" y1="710.90" x2="473.60" y2="727.70" stroke="#888" stroke-width="0.7" />
<line x1="105.00" y1="719.30" x2="482.00" y2="719.30" stroke="#7a7a7a" stroke-width="0.7" stroke-dasharray="9.8,2.8,1.8,2.6"/>
<line x1="113.00" y1="619.00" x2="113.00" y2="710.00" stroke="#8a8a8a" stroke-width="0.6" />
<line x1="141.00" y1="619.00" x2="141.00" y2="709.00" stroke="#8a8a8a" stroke-width="0.6" />
<line x1="166.60" y1="619.00" x2="166.60" y2="653.00" stroke="#8a8a8a" stroke-width="0.6" />
<line x1="396.20" y1="619.00" x2="396.20" y2="672.00" stroke="#8a8a8a" stroke-width="0.6" />
<line x1="380.70" y1="649.00" x2="380.70" y2="712.00" stroke="#8a8a8a" stroke-width="0.6" />
<line x1="373.20" y1="725.00" x2="373.20" y2="784.00" stroke="#8a8a8a" stroke-width="0.6" />
<line x1="388.10" y1="725.00" x2="388.10" y2="784.00" stroke="#8a8a8a" stroke-width="0.6" />
<line x1="435.70" y1="649.00" x2="435.70" y2="714.00" stroke="#8a8a8a" stroke-width="0.6" />
<line x1="444.20" y1="649.00" x2="444.20" y2="710.00" stroke="#8a8a8a" stroke-width="0.6" />
<line x1="447.80" y1="619.00" x2="447.80" y2="709.00" stroke="#8a8a8a" stroke-width="0.6" />
<line x1="476.00" y1="619.00" x2="476.00" y2="710.00" stroke="#8a8a8a" stroke-width="0.6" />
<line x1="113.00" y1="622.00" x2="141.00" y2="622.00" stroke="#8a8a8a" stroke-width="0.6" />
<polygon points="113.00,622.00 119.00,620.85 119.00,623.15" fill="#333"/>
<polygon points="141.00,622.00 135.00,620.85 135.00,623.15" fill="#333"/>
<line x1="141.00" y1="622.00" x2="166.60" y2="622.00" stroke="#8a8a8a" stroke-width="0.6" />
<polygon points="141.00,622.00 147.00,620.85 147.00,623.15" fill="#333"/>
<polygon points="166.60,622.00 160.60,620.85 160.60,623.15" fill="#333"/>
<line x1="166.60" y1="622.00" x2="255.00" y2="622.00" stroke="#8a8a8a" stroke-width="0.6" />
<line x1="305.00" y1="622.00" x2="396.20" y2="622.00" stroke="#8a8a8a" stroke-width="0.6" />
<polygon points="166.60,622.00 172.60,620.85 172.60,623.15" fill="#333"/>
<polygon points="396.20,622.00 390.20,620.85 390.20,623.15" fill="#333"/>
<text x="0" y="0" transform="translate(126.50,620.80) scale(0.78,1)" font-size="8.6" text-anchor="middle" fill="#3a3a3a" stroke="#3a3a3a" stroke-width="0.3" font-weight="normal">E</text>
<text x="0" y="0" transform="translate(153.50,620.80) scale(0.78,1)" font-size="8.6" text-anchor="middle" fill="#3a3a3a" stroke="#3a3a3a" stroke-width="0.3" font-weight="normal">Q</text>
<text x="0" y="0" transform="translate(280.00,620.80) scale(0.78,1)" font-size="8.6" text-anchor="middle" fill="#3a3a3a" stroke="#3a3a3a" stroke-width="0.3" font-weight="normal">W5 + STROKE</text>
<line x1="444.00" y1="622.00" x2="447.80" y2="622.00" stroke="#8a8a8a" stroke-width="0.6" />
<polygon points="447.80,622.00 441.80,620.85 441.80,623.15" fill="#333"/>
<text x="0" y="0" transform="translate(420.75,620.80) scale(0.78,1)" font-size="8.6" text-anchor="middle" fill="#3a3a3a" stroke="#3a3a3a" stroke-width="0.3" font-weight="normal">Q3 + STROKE</text>
<line x1="447.80" y1="622.00" x2="476.00" y2="622.00" stroke="#8a8a8a" stroke-width="0.6" />
<polygon points="447.80,622.00 453.80,620.85 453.80,623.15" fill="#333"/>
<polygon points="476.00,622.00 470.00,620.85 470.00,623.15" fill="#333"/>
<text x="0" y="0" transform="translate(462.20,620.80) scale(0.78,1)" font-size="8.6" text-anchor="middle" fill="#3a3a3a" stroke="#3a3a3a" stroke-width="0.3" font-weight="normal">E</text>
<line x1="370.60" y1="652.50" x2="406.25" y2="652.50" stroke="#8a8a8a" stroke-width="0.6" />
<polygon points="380.60,652.50 374.60,651.35 374.60,653.65" fill="#333"/>
<polygon points="396.25,652.50 402.25,651.35 402.25,653.65" fill="#333"/>
<text x="0" y="0" transform="translate(388.50,650.80) scale(0.78,1)" font-size="8.6" text-anchor="middle" fill="#3a3a3a" stroke="#3a3a3a" stroke-width="0.3" font-weight="normal">Y2</text>
<line x1="425.70" y1="652.00" x2="454.20" y2="652.00" stroke="#8a8a8a" stroke-width="0.6" />
<polygon points="435.70,652.00 429.70,650.85 429.70,653.15" fill="#333"/>
<polygon points="444.20,652.00 450.20,650.85 450.20,653.15" fill="#333"/>
<text x="0" y="0" transform="translate(440.00,650.80) scale(0.78,1)" font-size="8.6" text-anchor="middle" fill="#3a3a3a" stroke="#3a3a3a" stroke-width="0.3" font-weight="normal">F1</text>
<line x1="363.20" y1="781.70" x2="398.10" y2="781.70" stroke="#8a8a8a" stroke-width="0.6" />
<polygon points="373.20,781.70 367.20,780.55 367.20,782.85" fill="#333"/>
<polygon points="388.10,781.70 394.10,780.55 394.10,782.85" fill="#333"/>
<text x="0" y="0" transform="translate(380.30,780.50) scale(0.78,1)" font-size="8.6" text-anchor="middle" fill="#3a3a3a" stroke="#3a3a3a" stroke-width="0.3" font-weight="normal">R</text>
<line x1="396.20" y1="672.30" x2="525.00" y2="672.30" stroke="#8a8a8a" stroke-width="0.6" />
<line x1="396.20" y1="766.40" x2="525.00" y2="766.40" stroke="#8a8a8a" stroke-width="0.6" />
<line x1="522.20" y1="672.30" x2="522.20" y2="766.40" stroke="#8a8a8a" stroke-width="0.6" />
<polygon points="522.20,672.30 521.05,678.30 523.35,678.30" fill="#333"/>
<polygon points="522.20,766.40 521.05,760.40 523.35,760.40" fill="#333"/>
<text x="0" y="0" transform="translate(521.00,719.30) rotate(-90) scale(0.78,1)" font-size="8.6" text-anchor="middle" fill="#3a3a3a" stroke="#3a3a3a" stroke-width="0.3" font-weight="normal">L</text>
<line x1="475.60" y1="708.40" x2="509.00" y2="708.40" stroke="#8a8a8a" stroke-width="0.6" />
<line x1="475.60" y1="730.00" x2="509.00" y2="730.00" stroke="#8a8a8a" stroke-width="0.6" />
<line x1="506.40" y1="708.40" x2="506.40" y2="730.00" stroke="#8a8a8a" stroke-width="0.6" />
<polygon points="506.40,708.40 505.25,714.40 507.55,714.40" fill="#333"/>
<polygon points="506.40,730.00 505.25,724.00 507.55,724.00" fill="#333"/>
<text x="0" y="0" transform="translate(505.20,719.30) rotate(-90) scale(0.78,1)" font-size="8.6" text-anchor="middle" fill="#3a3a3a" stroke="#3a3a3a" stroke-width="0.3" font-weight="normal">D</text>
<line x1="475.60" y1="710.00" x2="494.00" y2="710.00" stroke="#8a8a8a" stroke-width="0.6" />
<line x1="475.60" y1="728.60" x2="494.00" y2="728.60" stroke="#8a8a8a" stroke-width="0.6" />
<line x1="491.00" y1="700.00" x2="491.00" y2="738.60" stroke="#8a8a8a" stroke-width="0.6" />
<polygon points="491.00,710.00 489.85,704.00 492.15,704.00" fill="#333"/>
<polygon points="491.00,728.60 489.85,734.60 492.15,734.60" fill="#333"/>
<text x="0" y="0" transform="translate(489.80,719.30) rotate(-90) scale(0.78,1)" font-size="8.6" text-anchor="middle" fill="#3a3a3a" stroke="#3a3a3a" stroke-width="0.3" font-weight="normal">D1</text>
<rect x="680.2" y="78.7" width="102.2" height="53.3" fill="none" stroke="#333" stroke-width="1.35"/>
<rect x="705.2" y="93" width="40.7" height="20.5" fill="none" stroke="#8c8c8c" stroke-width="0.9"/>
<line x1="709.5" y1="93" x2="709.5" y2="113.5" stroke="#8c8c8c" stroke-width="0.9"/>
<line x1="713.5" y1="93" x2="713.5" y2="113.5" stroke="#8c8c8c" stroke-width="0.9"/>
<rect x="713.5" y="100.2" width="40.3" height="4.7" fill="none" stroke="#8c8c8c" stroke-width="0.9"/>
<line x1="707.5" y1="113.5" x2="707.5" y2="116.5" stroke="#8c8c8c" stroke-width="0.9"/>
<line x1="744" y1="113.5" x2="744" y2="116.5" stroke="#8c8c8c" stroke-width="0.9"/>
<rect x="680.2" y="142.5" width="102.2" height="53.5" fill="none" stroke="#333" stroke-width="1.35"/>
<rect x="705.2" y="155.5" width="40.7" height="20.5" fill="none" stroke="#8c8c8c" stroke-width="0.9"/>
<line x1="709.5" y1="155.5" x2="709.5" y2="176" stroke="#8c8c8c" stroke-width="0.9"/>
<line x1="713.5" y1="155.5" x2="713.5" y2="176" stroke="#8c8c8c" stroke-width="0.9"/>
<rect x="713.5" y="162.7" width="40.3" height="4.7" fill="none" stroke="#8c8c8c" stroke-width="0.9"/>
<line x1="707.5" y1="176" x2="707.5" y2="179" stroke="#8c8c8c" stroke-width="0.9"/>
<polyline points="713.5,155.5 720,176 726.5,155.5 733,176 739.5,155.5 745.9,176" fill="none" stroke="#8c8c8c" stroke-width="0.9"/>
<rect x="680.2" y="207.7" width="102.2" height="52.30000000000001" fill="none" stroke="#333" stroke-width="1.35"/>
<rect x="692.5" y="221.5" width="40.5" height="20.5" fill="none" stroke="#8c8c8c" stroke-width="0.9"/>
<polyline points="692.5,242 699,221.5 705.5,242 712,221.5 718.5,242 724.5,221.5" fill="none" stroke="#8c8c8c" stroke-width="0.9"/>
<line x1="724.5" y1="221.5" x2="724.5" y2="242" stroke="#8c8c8c" stroke-width="0.9"/>
<line x1="728.5" y1="221.5" x2="728.5" y2="242" stroke="#8c8c8c" stroke-width="0.9"/>
<rect x="728.5" y="228.6" width="39.5" height="4.4" fill="none" stroke="#8c8c8c" stroke-width="0.9"/>
<line x1="730.5" y1="242" x2="730.5" y2="245" stroke="#8c8c8c" stroke-width="0.9"/>
<rect x="680.2" y="474.5" width="102.2" height="53.5" fill="none" stroke="#333" stroke-width="1.35"/>
<rect x="710.2" y="488.1" width="40.6" height="20" fill="none" stroke="#8c8c8c" stroke-width="0.9"/>
<line x1="728.5" y1="488.1" x2="728.5" y2="508.1" stroke="#8c8c8c" stroke-width="0.9"/>
<line x1="732.5" y1="488.1" x2="732.5" y2="508.1" stroke="#8c8c8c" stroke-width="0.9"/>
<rect x="688.2" y="496.3" width="40.3" height="4" fill="none" stroke="#8c8c8c" stroke-width="0.9"/>
<rect x="732.5" y="496.3" width="37.4" height="4" fill="none" stroke="#8c8c8c" stroke-width="0.9"/>
<line x1="712.5" y1="508.1" x2="712.5" y2="511.1" stroke="#8c8c8c" stroke-width="0.9"/>
<line x1="748" y1="508.1" x2="748" y2="511.1" stroke="#8c8c8c" stroke-width="0.9"/>
<rect x="680.2" y="741.5" width="102.2" height="52.700000000000045" fill="none" stroke="#333" stroke-width="1.35"/>
<rect x="710.2" y="754.4" width="40.6" height="20" fill="none" stroke="#8c8c8c" stroke-width="0.9"/>
<line x1="728.5" y1="754.4" x2="728.5" y2="774.4" stroke="#8c8c8c" stroke-width="0.9"/>
<line x1="732.5" y1="754.4" x2="732.5" y2="774.4" stroke="#8c8c8c" stroke-width="0.9"/>
<rect x="688.2" y="762.6" width="40.3" height="4" fill="none" stroke="#8c8c8c" stroke-width="0.9"/>
<rect x="732.5" y="762.6" width="37.4" height="4" fill="none" stroke="#8c8c8c" stroke-width="0.9"/>
<line x1="712.5" y1="774.4" x2="712.5" y2="777.4" stroke="#8c8c8c" stroke-width="0.9"/>
<line x1="748" y1="774.4" x2="748" y2="777.4" stroke="#8c8c8c" stroke-width="0.9"/>
<line x1="5.5" y1="855.4" x2="5.5" y2="1016.2" stroke="#3a3a3a" stroke-width="1.3"/>
<line x1="33.25" y1="855.4" x2="33.25" y2="1016.2" stroke="#3a3a3a" stroke-width="1.3"/>
<line x1="56.25" y1="855.4" x2="56.25" y2="1016.2" stroke="#3a3a3a" stroke-width="1.3"/>
<line x1="89.25" y1="855.4" x2="89.25" y2="1016.2" stroke="#3a3a3a" stroke-width="1.3"/>
<line x1="113.25" y1="855.4" x2="113.25" y2="1016.2" stroke="#3a3a3a" stroke-width="1.3"/>
<line x1="144.5" y1="855.4" x2="144.5" y2="1016.2" stroke="#3a3a3a" stroke-width="1.3"/>
<line x1="164.5" y1="855.4" x2="164.5" y2="1016.2" stroke="#3a3a3a" stroke-width="1.3"/>
<line x1="190" y1="855.4" x2="190" y2="1016.2" stroke="#3a3a3a" stroke-width="1.3"/>
<line x1="220" y1="855.4" x2="220" y2="1016.2" stroke="#3a3a3a" stroke-width="1.3"/>
<line x1="252.6" y1="855.4" x2="252.6" y2="1016.2" stroke="#3a3a3a" stroke-width="1.3"/>
<line x1="285.6" y1="855.4" x2="285.6" y2="1016.2" stroke="#3a3a3a" stroke-width="1.3"/>
<line x1="318.6" y1="855.4" x2="318.6" y2="1016.2" stroke="#3a3a3a" stroke-width="1.3"/>
<line x1="349.5" y1="855.4" x2="349.5" y2="1016.2" stroke="#3a3a3a" stroke-width="1.3"/>
<line x1="373.5" y1="855.4" x2="373.5" y2="1016.2" stroke="#3a3a3a" stroke-width="1.3"/>
<line x1="404" y1="855.4" x2="404" y2="1016.2" stroke="#3a3a3a" stroke-width="1.3"/>
<line x1="429.5" y1="855.4" x2="429.5" y2="1016.2" stroke="#3a3a3a" stroke-width="1.3"/>
<line x1="467.5" y1="855.4" x2="467.5" y2="1016.2" stroke="#3a3a3a" stroke-width="1.3"/>
<line x1="493.75" y1="855.4" x2="493.75" y2="1016.2" stroke="#3a3a3a" stroke-width="1.3"/>
<line x1="517" y1="855.4" x2="517" y2="1016.2" stroke="#3a3a3a" stroke-width="1.3"/>
<line x1="538.75" y1="855.4" x2="538.75" y2="1016.2" stroke="#3a3a3a" stroke-width="1.3"/>
<line x1="561" y1="855.4" x2="561" y2="1016.2" stroke="#3a3a3a" stroke-width="1.3"/>
<line x1="587" y1="855.4" x2="587" y2="1016.2" stroke="#3a3a3a" stroke-width="1.3"/>
<line x1="619" y1="855.4" x2="619" y2="1016.2" stroke="#3a3a3a" stroke-width="1.3"/>
<line x1="649" y1="855.4" x2="649" y2="1016.2" stroke="#3a3a3a" stroke-width="1.3"/>
<line x1="674" y1="855.4" x2="674" y2="1016.2" stroke="#3a3a3a" stroke-width="1.3"/>
<line x1="703.4" y1="855.4" x2="703.4" y2="1016.2" stroke="#3a3a3a" stroke-width="1.3"/>
<line x1="744" y1="855.4" x2="744" y2="1016.2" stroke="#3a3a3a" stroke-width="1.3"/>
<line x1="791.2" y1="855.4" x2="791.2" y2="1016.2" stroke="#3a3a3a" stroke-width="1.3"/>
<line x1="4.9" y1="855.4" x2="791.8000000000001" y2="855.4" stroke="#3a3a3a" stroke-width="1.3"/>
<line x1="4.9" y1="896.2" x2="791.8000000000001" y2="896.2" stroke="#3a3a3a" stroke-width="1.3"/>
<line x1="4.9" y1="908.6" x2="791.8000000000001" y2="908.6" stroke="#3a3a3a" stroke-width="1.3"/>
<line x1="4.9" y1="921.8" x2="791.8000000000001" y2="921.8" stroke="#3a3a3a" stroke-width="1.3"/>
<line x1="4.9" y1="935.2" x2="791.8000000000001" y2="935.2" stroke="#3a3a3a" stroke-width="1.3"/>
<line x1="4.9" y1="948.4" x2="791.8000000000001" y2="948.4" stroke="#3a3a3a" stroke-width="1.3"/>
<line x1="4.9" y1="961.2" x2="791.8000000000001" y2="961.2" stroke="#3a3a3a" stroke-width="1.3"/>
<line x1="4.9" y1="974.7" x2="791.8000000000001" y2="974.7" stroke="#3a3a3a" stroke-width="1.3"/>
<line x1="4.9" y1="988.2" x2="791.8000000000001" y2="988.2" stroke="#3a3a3a" stroke-width="1.3"/>
<line x1="4.9" y1="1001.4" x2="791.8000000000001" y2="1001.4" stroke="#3a3a3a" stroke-width="1.3"/>
<line x1="4.9" y1="1016.2" x2="791.8000000000001" y2="1016.2" stroke="#3a3a3a" stroke-width="1.3"/>
<text x="0" y="0" transform="translate(18.57,866) scale(0.9,1)" font-size="10" font-weight="bold" text-anchor="middle" fill="#222">Ø</text>
<text x="0" y="0" transform="translate(43.95,866) scale(0.9,1)" font-size="10" font-weight="bold" text-anchor="middle" fill="#222">D</text>
<text x="0" y="0" transform="translate(71.95,866) scale(0.9,1)" font-size="10" font-weight="bold" text-anchor="middle" fill="#222">D1</text>
<text x="0" y="0" transform="translate(100.45,866) scale(0.9,1)" font-size="10" font-weight="bold" text-anchor="middle" fill="#222">E</text>
<text x="0" y="0" transform="translate(128.07,866) scale(0.9,1)" font-size="10" font-weight="bold" text-anchor="middle" fill="#222">F</text>
<text x="0" y="0" transform="translate(153.70,866) scale(0.9,1)" font-size="10" font-weight="bold" text-anchor="middle" fill="#222">F1</text>
<text x="0" y="0" transform="translate(176.45,866) scale(0.9,1)" font-size="10" font-weight="bold" text-anchor="middle" fill="#222">I</text>
<text x="0" y="0" transform="translate(204.20,866) scale(0.9,1)" font-size="10" font-weight="bold" text-anchor="middle" fill="#222">I2</text>
<text x="0" y="0" transform="translate(235.50,866) scale(0.9,1)" font-size="10" font-weight="bold" text-anchor="middle" fill="#222">L</text>
<text x="0" y="0" transform="translate(268.30,866) scale(0.9,1)" font-size="10" font-weight="bold" text-anchor="middle" fill="#222">M</text>
<text x="0" y="0" transform="translate(301.30,866) scale(0.9,1)" font-size="10" font-weight="bold" text-anchor="middle" fill="#222">O</text>
<text x="0" y="0" transform="translate(333.25,866) scale(0.9,1)" font-size="10" font-weight="bold" text-anchor="middle" fill="#222">P</text>
<text x="0" y="0" transform="translate(360.70,866) scale(0.9,1)" font-size="10" font-weight="bold" text-anchor="middle" fill="#222">Q</text>
<text x="0" y="0" transform="translate(387.95,866) scale(0.9,1)" font-size="10" font-weight="bold" text-anchor="middle" fill="#222">Q1</text>
<text x="0" y="0" transform="translate(415.95,866) scale(0.9,1)" font-size="10" font-weight="bold" text-anchor="middle" fill="#222">Q3</text>
<text x="0" y="0" transform="translate(447.70,866) scale(0.9,1)" font-size="10" font-weight="bold" text-anchor="middle" fill="#222">R</text>
<text x="0" y="0" transform="translate(479.82,866) scale(0.9,1)" font-size="10" font-weight="bold" text-anchor="middle" fill="#222">S</text>
<text x="0" y="0" transform="translate(504.57,866) scale(0.9,1)" font-size="10" font-weight="bold" text-anchor="middle" fill="#222">S2</text>
<text x="0" y="0" transform="translate(527.08,866) scale(0.9,1)" font-size="10" font-weight="bold" text-anchor="middle" fill="#222">S3</text>
<text x="0" y="0" transform="translate(549.08,866) scale(0.9,1)" font-size="10" font-weight="bold" text-anchor="middle" fill="#222">S5</text>
<text x="0" y="0" transform="translate(573.20,866) scale(0.9,1)" font-size="10" font-weight="bold" text-anchor="middle" fill="#222">W1</text>
<text x="0" y="0" transform="translate(602.20,866) scale(0.9,1)" font-size="10" font-weight="bold" text-anchor="middle" fill="#222">W2</text>
<text x="0" y="0" transform="translate(633.20,866) scale(0.9,1)" font-size="10" font-weight="bold" text-anchor="middle" fill="#222">W5</text>
<text x="0" y="0" transform="translate(660.70,866) scale(0.9,1)" font-size="10" font-weight="bold" text-anchor="middle" fill="#222">Y</text>
<text x="0" y="0" transform="translate(687.90,866) scale(0.9,1)" font-size="10" font-weight="bold" text-anchor="middle" fill="#222">Y2</text>
<text x="0" y="0" transform="translate(722.90,866) scale(0.9,1)" font-size="10" font-weight="bold" text-anchor="middle" fill="#222">WEIGHT</text>
<text x="0" y="0" transform="translate(766.80,866) scale(0.9,1)" font-size="10" font-weight="bold" text-anchor="middle" fill="#222">INCREM.</text>
<text x="0" y="0" transform="translate(722.90,880.2) scale(0.9,1)" font-size="10" font-weight="bold" font-style="italic" text-anchor="middle" fill="#222">(g)</text>
<text x="0" y="0" transform="translate(766.80,880.2) scale(0.9,1)" font-size="10" font-weight="bold" font-style="italic" text-anchor="middle" fill="#222">(g)</text>
<text x="767.60" y="893.2" font-size="8.4" font-style="italic" text-anchor="middle" fill="#222" textLength="42" lengthAdjust="spacingAndGlyphs">every 10 mm</text>
<text x="0" y="0" transform="translate(18.38,905.90) scale(0.95,1)" font-size="10" text-anchor="middle" fill="#636363">20</text>
<text x="0" y="0" transform="translate(43.75,905.90) scale(0.95,1)" font-size="10" text-anchor="middle" fill="#636363">8</text>
<text x="0" y="0" transform="translate(71.75,905.90) scale(0.95,1)" font-size="10" text-anchor="middle" fill="#636363">M6</text>
<text x="0" y="0" transform="translate(100.25,905.90) scale(0.95,1)" font-size="10" text-anchor="middle" fill="#636363">9</text>
<text x="0" y="0" transform="translate(127.88,905.90) scale(0.95,1)" font-size="10" text-anchor="middle" fill="#636363">4,2</text>
<text x="0" y="0" transform="translate(153.50,905.90) scale(0.95,1)" font-size="10" text-anchor="middle" fill="#636363">3</text>
<text x="0" y="0" transform="translate(176.25,905.90) scale(0.95,1)" font-size="10" text-anchor="middle" fill="#636363">2</text>
<text x="0" y="0" transform="translate(204.00,905.90) scale(0.95,1)" font-size="10" text-anchor="middle" fill="#636363">3,5</text>
<text x="0" y="0" transform="translate(235.30,905.90) scale(0.95,1)" font-size="10" text-anchor="middle" fill="#636363">30</text>
<text x="0" y="0" transform="translate(268.10,905.90) scale(0.95,1)" font-size="10" text-anchor="middle" fill="#636363">16</text>
<text x="0" y="0" transform="translate(301.10,905.90) scale(0.95,1)" font-size="10" text-anchor="middle" fill="#636363">39</text>
<text x="0" y="0" transform="translate(333.05,905.90) scale(0.95,1)" font-size="10" text-anchor="middle" fill="#636363">50</text>
<text x="0" y="0" transform="translate(360.50,905.90) scale(0.95,1)" font-size="10" text-anchor="middle" fill="#636363">10</text>
<text x="0" y="0" transform="translate(387.75,905.90) scale(0.95,1)" font-size="10" text-anchor="middle" fill="#636363">24</text>
<text x="0" y="0" transform="translate(415.75,905.90) scale(0.95,1)" font-size="10" text-anchor="middle" fill="#636363">8</text>
<text x="0" y="0" transform="translate(447.50,905.90) scale(0.95,1)" font-size="10" text-anchor="middle" fill="#636363">G 1/8</text>
<text x="0" y="0" transform="translate(479.62,905.90) scale(0.95,1)" font-size="10" text-anchor="middle" fill="#636363">24</text>
<text x="0" y="0" transform="translate(504.38,905.90) scale(0.95,1)" font-size="10" text-anchor="middle" fill="#636363">23</text>
<text x="0" y="0" transform="translate(526.88,905.90) scale(0.95,1)" font-size="10" text-anchor="middle" fill="#636363">4</text>
<text x="0" y="0" transform="translate(548.88,905.90) scale(0.95,1)" font-size="10" text-anchor="middle" fill="#636363">14</text>
<text x="0" y="0" transform="translate(573.00,905.90) scale(0.95,1)" font-size="10" text-anchor="middle" fill="#636363">55</text>
<text x="0" y="0" transform="translate(602.00,905.90) scale(0.95,1)" font-size="10" text-anchor="middle" fill="#636363">72</text>
<text x="0" y="0" transform="translate(633.00,905.90) scale(0.95,1)" font-size="10" text-anchor="middle" fill="#636363">75</text>
<text x="0" y="0" transform="translate(660.50,905.90) scale(0.95,1)" font-size="10" text-anchor="middle" fill="#636363">10</text>
<text x="0" y="0" transform="translate(687.70,905.90) scale(0.95,1)" font-size="10" text-anchor="middle" fill="#636363">11,5</text>
<text x="0" y="0" transform="translate(722.70,905.90) scale(0.95,1)" font-size="10" text-anchor="middle" fill="#636363">91</text>
<text x="0" y="0" transform="translate(766.60,905.90) scale(0.95,1)" font-size="10" text-anchor="middle" fill="#636363">15</text>
<text x="0" y="0" transform="translate(18.38,918.70) scale(0.95,1)" font-size="10" text-anchor="middle" fill="#636363">27</text>
<text x="0" y="0" transform="translate(43.75,918.70) scale(0.95,1)" font-size="10" text-anchor="middle" fill="#636363">10</text>
<text x="0" y="0" transform="translate(71.75,918.70) scale(0.95,1)" font-size="10" text-anchor="middle" fill="#636363">M8</text>
<text x="0" y="0" transform="translate(100.25,918.70) scale(0.95,1)" font-size="10" text-anchor="middle" fill="#636363">12</text>
<text x="0" y="0" transform="translate(127.88,918.70) scale(0.95,1)" font-size="10" text-anchor="middle" fill="#636363">4,5</text>
<text x="0" y="0" transform="translate(153.50,918.70) scale(0.95,1)" font-size="10" text-anchor="middle" fill="#636363">4</text>
<text x="0" y="0" transform="translate(176.25,918.70) scale(0.95,1)" font-size="10" text-anchor="middle" fill="#636363">2</text>
<text x="0" y="0" transform="translate(204.00,918.70) scale(0.95,1)" font-size="10" text-anchor="middle" fill="#636363">3,5</text>
<text x="0" y="0" transform="translate(235.30,918.70) scale(0.95,1)" font-size="10" text-anchor="middle" fill="#636363">35</text>
<text x="0" y="0" transform="translate(268.10,918.70) scale(0.95,1)" font-size="10" text-anchor="middle" fill="#636363">20</text>
<text x="0" y="0" transform="translate(301.10,918.70) scale(0.95,1)" font-size="10" text-anchor="middle" fill="#636363">48</text>
<text x="0" y="0" transform="translate(333.05,918.70) scale(0.95,1)" font-size="10" text-anchor="middle" fill="#636363">58</text>
<text x="0" y="0" transform="translate(360.50,918.70) scale(0.95,1)" font-size="10" text-anchor="middle" fill="#636363">12</text>
<text x="0" y="0" transform="translate(387.75,918.70) scale(0.95,1)" font-size="10" text-anchor="middle" fill="#636363">30</text>
<text x="0" y="0" transform="translate(415.75,918.70) scale(0.95,1)" font-size="10" text-anchor="middle" fill="#636363">10</text>
<text x="0" y="0" transform="translate(447.50,918.70) scale(0.95,1)" font-size="10" text-anchor="middle" fill="#636363">G 1/8</text>
<text x="0" y="0" transform="translate(479.62,918.70) scale(0.95,1)" font-size="10" text-anchor="middle" fill="#636363">28</text>
<text x="0" y="0" transform="translate(504.38,918.70) scale(0.95,1)" font-size="10" text-anchor="middle" fill="#636363">30</text>
<text x="0" y="0" transform="translate(526.88,918.70) scale(0.95,1)" font-size="10" text-anchor="middle" fill="#636363">6</text>
<text x="0" y="0" transform="translate(548.88,918.70) scale(0.95,1)" font-size="10" text-anchor="middle" fill="#636363">14</text>
<text x="0" y="0" transform="translate(573.00,918.70) scale(0.95,1)" font-size="10" text-anchor="middle" fill="#636363">63,5</text>
<text x="0" y="0" transform="translate(602.00,918.70) scale(0.95,1)" font-size="10" text-anchor="middle" fill="#636363">78,5</text>
<text x="0" y="0" transform="translate(633.00,918.70) scale(0.95,1)" font-size="10" text-anchor="middle" fill="#636363">80,5</text>
<text x="0" y="0" transform="translate(660.50,918.70) scale(0.95,1)" font-size="10" text-anchor="middle" fill="#636363">9,5</text>
<text x="0" y="0" transform="translate(687.70,918.70) scale(0.95,1)" font-size="10" text-anchor="middle" fill="#636363">11,5</text>
<text x="0" y="0" transform="translate(722.70,918.70) scale(0.95,1)" font-size="10" text-anchor="middle" fill="#636363">178</text>
<text x="0" y="0" transform="translate(766.60,918.70) scale(0.95,1)" font-size="10" text-anchor="middle" fill="#636363">20</text>
<text x="0" y="0" transform="translate(18.38,932.00) scale(0.95,1)" font-size="10" text-anchor="middle" fill="#636363">35</text>
<text x="0" y="0" transform="translate(43.75,932.00) scale(0.95,1)" font-size="10" text-anchor="middle" fill="#636363">12</text>
<text x="0" y="0" transform="translate(71.75,932.00) scale(0.95,1)" font-size="10" text-anchor="middle" fill="#636363">M10</text>
<text x="0" y="0" transform="translate(100.25,932.00) scale(0.95,1)" font-size="10" text-anchor="middle" fill="#636363">15</text>
<text x="0" y="0" transform="translate(127.88,932.00) scale(0.95,1)" font-size="10" text-anchor="middle" fill="#636363">5,5</text>
<text x="0" y="0" transform="translate(153.50,932.00) scale(0.95,1)" font-size="10" text-anchor="middle" fill="#636363">4</text>
<text x="0" y="0" transform="translate(176.25,932.00) scale(0.95,1)" font-size="10" text-anchor="middle" fill="#636363">2</text>
<text x="0" y="0" transform="translate(204.00,932.00) scale(0.95,1)" font-size="10" text-anchor="middle" fill="#636363">3,5</text>
<text x="0" y="0" transform="translate(235.30,932.00) scale(0.95,1)" font-size="10" text-anchor="middle" fill="#636363">45</text>
<text x="0" y="0" transform="translate(268.10,932.00) scale(0.95,1)" font-size="10" text-anchor="middle" fill="#636363">24</text>
<text x="0" y="0" transform="translate(301.10,932.00) scale(0.95,1)" font-size="10" text-anchor="middle" fill="#636363">54</text>
<text x="0" y="0" transform="translate(333.05,932.00) scale(0.95,1)" font-size="10" text-anchor="middle" fill="#636363">66</text>
<text x="0" y="0" transform="translate(360.50,932.00) scale(0.95,1)" font-size="10" text-anchor="middle" fill="#636363">14</text>
<text x="0" y="0" transform="translate(387.75,932.00) scale(0.95,1)" font-size="10" text-anchor="middle" fill="#636363">36</text>
<text x="0" y="0" transform="translate(415.75,932.00) scale(0.95,1)" font-size="10" text-anchor="middle" fill="#636363">12</text>
<text x="0" y="0" transform="translate(447.50,932.00) scale(0.95,1)" font-size="10" text-anchor="middle" fill="#636363">G 1/8</text>
<text x="0" y="0" transform="translate(479.62,932.00) scale(0.95,1)" font-size="10" text-anchor="middle" fill="#636363">32</text>
<text x="0" y="0" transform="translate(504.38,932.00) scale(0.95,1)" font-size="10" text-anchor="middle" fill="#636363">36</text>
<text x="0" y="0" transform="translate(526.88,932.00) scale(0.95,1)" font-size="10" text-anchor="middle" fill="#636363">6</text>
<text x="0" y="0" transform="translate(548.88,932.00) scale(0.95,1)" font-size="10" text-anchor="middle" fill="#636363">18</text>
<text x="0" y="0" transform="translate(573.00,932.00) scale(0.95,1)" font-size="10" text-anchor="middle" fill="#636363">69,5</text>
<text x="0" y="0" transform="translate(602.00,932.00) scale(0.95,1)" font-size="10" text-anchor="middle" fill="#636363">83,5</text>
<text x="0" y="0" transform="translate(633.00,932.00) scale(0.95,1)" font-size="10" text-anchor="middle" fill="#636363">85,5</text>
<text x="0" y="0" transform="translate(660.50,932.00) scale(0.95,1)" font-size="10" text-anchor="middle" fill="#636363">9,5</text>
<text x="0" y="0" transform="translate(687.70,932.00) scale(0.95,1)" font-size="10" text-anchor="middle" fill="#636363">10</text>
<text x="0" y="0" transform="translate(722.70,932.00) scale(0.95,1)" font-size="10" text-anchor="middle" fill="#636363">317</text>
<text x="0" y="0" transform="translate(766.60,932.00) scale(0.95,1)" font-size="10" text-anchor="middle" fill="#636363">32</text>
<text x="0" y="0" transform="translate(18.38,945.30) scale(0.95,1)" font-size="10" text-anchor="middle" fill="#636363">40</text>
<text x="0" y="0" transform="translate(43.75,945.30) scale(0.95,1)" font-size="10" text-anchor="middle" fill="#636363">12</text>
<text x="0" y="0" transform="translate(71.75,945.30) scale(0.95,1)" font-size="10" text-anchor="middle" fill="#636363">M10</text>
<text x="0" y="0" transform="translate(100.25,945.30) scale(0.95,1)" font-size="10" text-anchor="middle" fill="#636363">15</text>
<text x="0" y="0" transform="translate(127.88,945.30) scale(0.95,1)" font-size="10" text-anchor="middle" fill="#636363">6,5</text>
<text x="0" y="0" transform="translate(153.50,945.30) scale(0.95,1)" font-size="10" text-anchor="middle" fill="#636363">4</text>
<text x="0" y="0" transform="translate(176.25,945.30) scale(0.95,1)" font-size="10" text-anchor="middle" fill="#636363">3</text>
<text x="0" y="0" transform="translate(204.00,945.30) scale(0.95,1)" font-size="10" text-anchor="middle" fill="#636363">3</text>
<text x="0" y="0" transform="translate(235.30,945.30) scale(0.95,1)" font-size="10" text-anchor="middle" fill="#636363">50</text>
<text x="0" y="0" transform="translate(268.10,945.30) scale(0.95,1)" font-size="10" text-anchor="middle" fill="#636363">32</text>
<text x="0" y="0" transform="translate(301.10,945.30) scale(0.95,1)" font-size="10" text-anchor="middle" fill="#636363">57</text>
<text x="0" y="0" transform="translate(333.05,945.30) scale(0.95,1)" font-size="10" text-anchor="middle" fill="#636363">69</text>
<text x="0" y="0" transform="translate(360.50,945.30) scale(0.95,1)" font-size="10" text-anchor="middle" fill="#636363">15</text>
<text x="0" y="0" transform="translate(387.75,945.30) scale(0.95,1)" font-size="10" text-anchor="middle" fill="#636363">44</text>
<text x="0" y="0" transform="translate(415.75,945.30) scale(0.95,1)" font-size="10" text-anchor="middle" fill="#636363">12</text>
<text x="0" y="0" transform="translate(447.50,945.30) scale(0.95,1)" font-size="10" text-anchor="middle" fill="#636363">G 1/8</text>
<text x="0" y="0" transform="translate(479.62,945.30) scale(0.95,1)" font-size="10" text-anchor="middle" fill="#636363">36</text>
<text x="0" y="0" transform="translate(504.38,945.30) scale(0.95,1)" font-size="10" text-anchor="middle" fill="#636363">40</text>
<text x="0" y="0" transform="translate(526.88,945.30) scale(0.95,1)" font-size="10" text-anchor="middle" fill="#636363">7</text>
<text x="0" y="0" transform="translate(548.88,945.30) scale(0.95,1)" font-size="10" text-anchor="middle" fill="#636363">24</text>
<text x="0" y="0" transform="translate(573.00,945.30) scale(0.95,1)" font-size="10" text-anchor="middle" fill="#636363">80</text>
<text x="0" y="0" transform="translate(602.00,945.30) scale(0.95,1)" font-size="10" text-anchor="middle" fill="#636363">97</text>
<text x="0" y="0" transform="translate(633.00,945.30) scale(0.95,1)" font-size="10" text-anchor="middle" fill="#636363">98</text>
<text x="0" y="0" transform="translate(660.50,945.30) scale(0.95,1)" font-size="10" text-anchor="middle" fill="#636363">10</text>
<text x="0" y="0" transform="translate(687.70,945.30) scale(0.95,1)" font-size="10" text-anchor="middle" fill="#636363">10</text>
<text x="0" y="0" transform="translate(722.70,945.30) scale(0.95,1)" font-size="10" text-anchor="middle" fill="#636363">427</text>
<text x="0" y="0" transform="translate(766.60,945.30) scale(0.95,1)" font-size="10" text-anchor="middle" fill="#636363">35</text>
<text x="0" y="0" transform="translate(18.38,958.30) scale(0.95,1)" font-size="10" text-anchor="middle" fill="#636363">50</text>
<text x="0" y="0" transform="translate(43.75,958.30) scale(0.95,1)" font-size="10" text-anchor="middle" fill="#636363">14</text>
<text x="0" y="0" transform="translate(71.75,958.30) scale(0.95,1)" font-size="10" text-anchor="middle" fill="#636363">M12</text>
<text x="0" y="0" transform="translate(100.25,958.30) scale(0.95,1)" font-size="10" text-anchor="middle" fill="#636363">18</text>
<text x="0" y="0" transform="translate(127.88,958.30) scale(0.95,1)" font-size="10" text-anchor="middle" fill="#636363">6,5</text>
<text x="0" y="0" transform="translate(153.50,958.30) scale(0.95,1)" font-size="10" text-anchor="middle" fill="#636363">5</text>
<text x="0" y="0" transform="translate(176.25,958.30) scale(0.95,1)" font-size="10" text-anchor="middle" fill="#636363">3</text>
<text x="0" y="0" transform="translate(204.00,958.30) scale(0.95,1)" font-size="10" text-anchor="middle" fill="#636363">3</text>
<text x="0" y="0" transform="translate(235.30,958.30) scale(0.95,1)" font-size="10" text-anchor="middle" fill="#636363">61</text>
<text x="0" y="0" transform="translate(268.10,958.30) scale(0.95,1)" font-size="10" text-anchor="middle" fill="#636363">32</text>
<text x="0" y="0" transform="translate(301.10,958.30) scale(0.95,1)" font-size="10" text-anchor="middle" fill="#636363">75</text>
<text x="0" y="0" transform="translate(333.05,958.30) scale(0.95,1)" font-size="10" text-anchor="middle" fill="#636363">87</text>
<text x="0" y="0" transform="translate(360.50,958.30) scale(0.95,1)" font-size="10" text-anchor="middle" fill="#636363">17</text>
<text x="0" y="0" transform="translate(387.75,958.30) scale(0.95,1)" font-size="10" text-anchor="middle" fill="#636363">46</text>
<text x="0" y="0" transform="translate(415.75,958.30) scale(0.95,1)" font-size="10" text-anchor="middle" fill="#636363">14</text>
<text x="0" y="0" transform="translate(447.50,958.30) scale(0.95,1)" font-size="10" text-anchor="middle" fill="#636363">G 1/8</text>
<text x="0" y="0" transform="translate(479.62,958.30) scale(0.95,1)" font-size="10" text-anchor="middle" fill="#636363">42</text>
<text x="0" y="0" transform="translate(504.38,958.30) scale(0.95,1)" font-size="10" text-anchor="middle" fill="#636363">54</text>
<text x="0" y="0" transform="translate(526.88,958.30) scale(0.95,1)" font-size="10" text-anchor="middle" fill="#636363">7</text>
<text x="0" y="0" transform="translate(548.88,958.30) scale(0.95,1)" font-size="10" text-anchor="middle" fill="#636363">26</text>
<text x="0" y="0" transform="translate(573.00,958.30) scale(0.95,1)" font-size="10" text-anchor="middle" fill="#636363">85</text>
<text x="0" y="0" transform="translate(602.00,958.30) scale(0.95,1)" font-size="10" text-anchor="middle" fill="#636363">99</text>
<text x="0" y="0" transform="translate(633.00,958.30) scale(0.95,1)" font-size="10" text-anchor="middle" fill="#636363">102</text>
<text x="0" y="0" transform="translate(660.50,958.30) scale(0.95,1)" font-size="10" text-anchor="middle" fill="#636363">10</text>
<text x="0" y="0" transform="translate(687.70,958.30) scale(0.95,1)" font-size="10" text-anchor="middle" fill="#636363">10</text>
<text x="0" y="0" transform="translate(722.70,958.30) scale(0.95,1)" font-size="10" text-anchor="middle" fill="#636363">689</text>
<text x="0" y="0" transform="translate(766.60,958.30) scale(0.95,1)" font-size="10" text-anchor="middle" fill="#636363">44</text>
<text x="0" y="0" transform="translate(18.38,971.45) scale(0.95,1)" font-size="10" text-anchor="middle" fill="#636363">58</text>
<text x="0" y="0" transform="translate(43.75,971.45) scale(0.95,1)" font-size="10" text-anchor="middle" fill="#636363">16</text>
<text x="0" y="0" transform="translate(71.75,971.45) scale(0.95,1)" font-size="10" text-anchor="middle" fill="#636363">M14</text>
<text x="0" y="0" transform="translate(100.25,971.45) scale(0.95,1)" font-size="10" text-anchor="middle" fill="#636363">21</text>
<text x="0" y="0" transform="translate(127.88,971.45) scale(0.95,1)" font-size="10" text-anchor="middle" fill="#636363">6,5</text>
<text x="0" y="0" transform="translate(153.50,971.45) scale(0.95,1)" font-size="10" text-anchor="middle" fill="#636363">5</text>
<text x="0" y="0" transform="translate(176.25,971.45) scale(0.95,1)" font-size="10" text-anchor="middle" fill="#636363">3</text>
<text x="0" y="0" transform="translate(204.00,971.45) scale(0.95,1)" font-size="10" text-anchor="middle" fill="#636363">4</text>
<text x="0" y="0" transform="translate(235.30,971.45) scale(0.95,1)" font-size="10" text-anchor="middle" fill="#636363">70</text>
<text x="0" y="0" transform="translate(268.10,971.45) scale(0.95,1)" font-size="10" text-anchor="middle" fill="#636363">32</text>
<text x="0" y="0" transform="translate(301.10,971.45) scale(0.95,1)" font-size="10" text-anchor="middle" fill="#636363">82</text>
<text x="0" y="0" transform="translate(333.05,971.45) scale(0.95,1)" font-size="10" text-anchor="middle" fill="#636363">100</text>
<text x="0" y="0" transform="translate(360.50,971.45) scale(0.95,1)" font-size="10" text-anchor="middle" fill="#636363">19</text>
<text x="0" y="0" transform="translate(387.75,971.45) scale(0.95,1)" font-size="10" text-anchor="middle" fill="#636363">48</text>
<text x="0" y="0" transform="translate(415.75,971.45) scale(0.95,1)" font-size="10" text-anchor="middle" fill="#636363">16</text>
<text x="0" y="0" transform="translate(447.50,971.45) scale(0.95,1)" font-size="10" text-anchor="middle" fill="#636363">G 1/4</text>
<text x="0" y="0" transform="translate(479.62,971.45) scale(0.95,1)" font-size="10" text-anchor="middle" fill="#636363">45</text>
<text x="0" y="0" transform="translate(504.38,971.45) scale(0.95,1)" font-size="10" text-anchor="middle" fill="#636363">60</text>
<text x="0" y="0" transform="translate(526.88,971.45) scale(0.95,1)" font-size="10" text-anchor="middle" fill="#636363">8</text>
<text x="0" y="0" transform="translate(548.88,971.45) scale(0.95,1)" font-size="10" text-anchor="middle" fill="#636363">30</text>
<text x="0" y="0" transform="translate(573.00,971.45) scale(0.95,1)" font-size="10" text-anchor="middle" fill="#636363">88</text>
<text x="0" y="0" transform="translate(602.00,971.45) scale(0.95,1)" font-size="10" text-anchor="middle" fill="#636363">104</text>
<text x="0" y="0" transform="translate(633.00,971.45) scale(0.95,1)" font-size="10" text-anchor="middle" fill="#636363">106</text>
<text x="0" y="0" transform="translate(660.50,971.45) scale(0.95,1)" font-size="10" text-anchor="middle" fill="#636363">12</text>
<text x="0" y="0" transform="translate(687.70,971.45) scale(0.95,1)" font-size="10" text-anchor="middle" fill="#636363">14</text>
<text x="0" y="0" transform="translate(722.70,971.45) scale(0.95,1)" font-size="10" text-anchor="middle" fill="#636363">915</text>
<text x="0" y="0" transform="translate(766.60,971.45) scale(0.95,1)" font-size="10" text-anchor="middle" fill="#636363">53</text>
<text x="0" y="0" transform="translate(18.38,984.95) scale(0.95,1)" font-size="10" text-anchor="middle" fill="#636363">70</text>
<text x="0" y="0" transform="translate(43.75,984.95) scale(0.95,1)" font-size="10" text-anchor="middle" fill="#636363">18</text>
<text x="0" y="0" transform="translate(71.75,984.95) scale(0.95,1)" font-size="10" text-anchor="middle" fill="#636363">M16</text>
<text x="0" y="0" transform="translate(100.25,984.95) scale(0.95,1)" font-size="10" text-anchor="middle" fill="#636363">24</text>
<text x="0" y="0" transform="translate(127.88,984.95) scale(0.95,1)" font-size="10" text-anchor="middle" fill="#636363">8,5</text>
<text x="0" y="0" transform="translate(153.50,984.95) scale(0.95,1)" font-size="10" text-anchor="middle" fill="#636363">5</text>
<text x="0" y="0" transform="translate(176.25,984.95) scale(0.95,1)" font-size="10" text-anchor="middle" fill="#636363">4</text>
<text x="0" y="0" transform="translate(204.00,984.95) scale(0.95,1)" font-size="10" text-anchor="middle" fill="#636363">4</text>
<text x="0" y="0" transform="translate(235.30,984.95) scale(0.95,1)" font-size="10" text-anchor="middle" fill="#636363">82</text>
<text x="0" y="0" transform="translate(268.10,984.95) scale(0.95,1)" font-size="10" text-anchor="middle" fill="#636363">35</text>
<text x="0" y="0" transform="translate(301.10,984.95) scale(0.95,1)" font-size="10" text-anchor="middle" fill="#636363">100</text>
<text x="0" y="0" transform="translate(333.05,984.95) scale(0.95,1)" font-size="10" text-anchor="middle" fill="#636363">119</text>
<text x="0" y="0" transform="translate(360.50,984.95) scale(0.95,1)" font-size="10" text-anchor="middle" fill="#636363">22</text>
<text x="0" y="0" transform="translate(387.75,984.95) scale(0.95,1)" font-size="10" text-anchor="middle" fill="#636363">53</text>
<text x="0" y="0" transform="translate(415.75,984.95) scale(0.95,1)" font-size="10" text-anchor="middle" fill="#636363">18</text>
<text x="0" y="0" transform="translate(447.50,984.95) scale(0.95,1)" font-size="10" text-anchor="middle" fill="#636363">G 1/4</text>
<text x="0" y="0" transform="translate(479.62,984.95) scale(0.95,1)" font-size="10" text-anchor="middle" fill="#636363">50</text>
<text x="0" y="0" transform="translate(504.38,984.95) scale(0.95,1)" font-size="10" text-anchor="middle" fill="#636363">70</text>
<text x="0" y="0" transform="translate(526.88,984.95) scale(0.95,1)" font-size="10" text-anchor="middle" fill="#636363">10</text>
<text x="0" y="0" transform="translate(548.88,984.95) scale(0.95,1)" font-size="10" text-anchor="middle" fill="#636363">30</text>
<text x="0" y="0" transform="translate(573.00,984.95) scale(0.95,1)" font-size="10" text-anchor="middle" fill="#636363">94</text>
<text x="0" y="0" transform="translate(602.00,984.95) scale(0.95,1)" font-size="10" text-anchor="middle" fill="#636363">111</text>
<text x="0" y="0" transform="translate(633.00,984.95) scale(0.95,1)" font-size="10" text-anchor="middle" fill="#636363">117</text>
<text x="0" y="0" transform="translate(660.50,984.95) scale(0.95,1)" font-size="10" text-anchor="middle" fill="#636363">14</text>
<text x="0" y="0" transform="translate(687.70,984.95) scale(0.95,1)" font-size="10" text-anchor="middle" fill="#636363">16</text>
<text x="0" y="0" transform="translate(722.70,984.95) scale(0.95,1)" font-size="10" text-anchor="middle" fill="#636363">1244</text>
<text x="0" y="0" transform="translate(766.60,984.95) scale(0.95,1)" font-size="10" text-anchor="middle" fill="#636363">64</text>
<text x="0" y="0" transform="translate(18.38,998.30) scale(0.95,1)" font-size="10" text-anchor="middle" fill="#636363">85</text>
<text x="0" y="0" transform="translate(43.75,998.30) scale(0.95,1)" font-size="10" text-anchor="middle" fill="#636363">20</text>
<text x="0" y="0" transform="translate(71.75,998.30) scale(0.95,1)" font-size="10" text-anchor="middle" fill="#636363">M18</text>
<text x="0" y="0" transform="translate(100.25,998.30) scale(0.95,1)" font-size="10" text-anchor="middle" fill="#636363">27</text>
<text x="0" y="0" transform="translate(127.88,998.30) scale(0.95,1)" font-size="10" text-anchor="middle" fill="#636363">10,5</text>
<text x="0" y="0" transform="translate(153.50,998.30) scale(0.95,1)" font-size="10" text-anchor="middle" fill="#636363">6</text>
<text x="0" y="0" transform="translate(176.25,998.30) scale(0.95,1)" font-size="10" text-anchor="middle" fill="#636363">4</text>
<text x="0" y="0" transform="translate(204.00,998.30) scale(0.95,1)" font-size="10" text-anchor="middle" fill="#636363">4</text>
<text x="0" y="0" transform="translate(235.30,998.30) scale(0.95,1)" font-size="10" text-anchor="middle" fill="#636363">98</text>
<text x="0" y="0" transform="translate(268.10,998.30) scale(0.95,1)" font-size="10" text-anchor="middle" fill="#636363">44,5</text>
<text x="0" y="0" transform="translate(301.10,998.30) scale(0.95,1)" font-size="10" text-anchor="middle" fill="#636363">120</text>
<text x="0" y="0" transform="translate(333.05,998.30) scale(0.95,1)" font-size="10" text-anchor="middle" fill="#636363">140</text>
<text x="0" y="0" transform="translate(360.50,998.30) scale(0.95,1)" font-size="10" text-anchor="middle" fill="#636363">24</text>
<text x="0" y="0" transform="translate(387.75,998.30) scale(0.95,1)" font-size="10" text-anchor="middle" fill="#636363">64,5</text>
<text x="0" y="0" transform="translate(415.75,998.30) scale(0.95,1)" font-size="10" text-anchor="middle" fill="#636363">20</text>
<text x="0" y="0" transform="translate(447.50,998.30) scale(0.95,1)" font-size="10" text-anchor="middle" fill="#636363">G 1/4</text>
<text x="0" y="0" transform="translate(479.62,998.30) scale(0.95,1)" font-size="10" text-anchor="middle" fill="#636363">60</text>
<text x="0" y="0" transform="translate(504.38,998.30) scale(0.95,1)" font-size="10" text-anchor="middle" fill="#636363">80</text>
<text x="0" y="0" transform="translate(526.88,998.30) scale(0.95,1)" font-size="10" text-anchor="middle" fill="#636363">11</text>
<text x="0" y="0" transform="translate(548.88,998.30) scale(0.95,1)" font-size="10" text-anchor="middle" fill="#636363">40</text>
<text x="0" y="0" transform="translate(573.00,998.30) scale(0.95,1)" font-size="10" text-anchor="middle" fill="#636363">103</text>
<text x="0" y="0" transform="translate(602.00,998.30) scale(0.95,1)" font-size="10" text-anchor="middle" fill="#636363">119,5</text>
<text x="0" y="0" transform="translate(633.00,998.30) scale(0.95,1)" font-size="10" text-anchor="middle" fill="#636363">124</text>
<text x="0" y="0" transform="translate(660.50,998.30) scale(0.95,1)" font-size="10" text-anchor="middle" fill="#636363">12,5</text>
<text x="0" y="0" transform="translate(687.70,998.30) scale(0.95,1)" font-size="10" text-anchor="middle" fill="#636363">14</text>
<text x="0" y="0" transform="translate(722.70,998.30) scale(0.95,1)" font-size="10" text-anchor="middle" fill="#636363">2113</text>
<text x="0" y="0" transform="translate(766.60,998.30) scale(0.95,1)" font-size="10" text-anchor="middle" fill="#636363">89</text>
<text x="0" y="0" transform="translate(18.38,1010.50) scale(0.95,1)" font-size="10" text-anchor="middle" fill="#636363">100</text>
<text x="0" y="0" transform="translate(43.75,1010.50) scale(0.95,1)" font-size="10" text-anchor="middle" fill="#636363">24</text>
<text x="0" y="0" transform="translate(71.75,1010.50) scale(0.95,1)" font-size="10" text-anchor="middle" fill="#636363">M20</text>
<text x="0" y="0" transform="translate(100.25,1010.50) scale(0.95,1)" font-size="10" text-anchor="middle" fill="#636363">30</text>
<text x="0" y="0" transform="translate(127.88,1010.50) scale(0.95,1)" font-size="10" text-anchor="middle" fill="#636363">10,5</text>
<text x="0" y="0" transform="translate(153.50,1010.50) scale(0.95,1)" font-size="10" text-anchor="middle" fill="#636363">6</text>
<text x="0" y="0" transform="translate(176.25,1010.50) scale(0.95,1)" font-size="10" text-anchor="middle" fill="#636363">4</text>
<text x="0" y="0" transform="translate(204.00,1010.50) scale(0.95,1)" font-size="10" text-anchor="middle" fill="#636363">4</text>
<text x="0" y="0" transform="translate(235.30,1010.50) scale(0.95,1)" font-size="10" text-anchor="middle" fill="#636363">114</text>
<text x="0" y="0" transform="translate(268.10,1010.50) scale(0.95,1)" font-size="10" text-anchor="middle" fill="#636363">50</text>
<text x="0" y="0" transform="translate(301.10,1010.50) scale(0.95,1)" font-size="10" text-anchor="middle" fill="#636363">137</text>
<text x="0" y="0" transform="translate(333.05,1010.50) scale(0.95,1)" font-size="10" text-anchor="middle" fill="#636363">160</text>
<text x="0" y="0" transform="translate(360.50,1010.50) scale(0.95,1)" font-size="10" text-anchor="middle" fill="#636363">28</text>
<text x="0" y="0" transform="translate(387.75,1010.50) scale(0.95,1)" font-size="10" text-anchor="middle" fill="#636363">74</text>
<text x="0" y="0" transform="translate(415.75,1010.50) scale(0.95,1)" font-size="10" text-anchor="middle" fill="#636363">24</text>
<text x="0" y="0" transform="translate(447.50,1010.50) scale(0.95,1)" font-size="10" text-anchor="middle" fill="#636363">G 1/4</text>
<text x="0" y="0" transform="translate(479.62,1010.50) scale(0.95,1)" font-size="10" text-anchor="middle" fill="#636363">70</text>
<text x="0" y="0" transform="translate(504.38,1010.50) scale(0.95,1)" font-size="10" text-anchor="middle" fill="#636363">88</text>
<text x="0" y="0" transform="translate(526.88,1010.50) scale(0.95,1)" font-size="10" text-anchor="middle" fill="#636363">12</text>
<text x="0" y="0" transform="translate(548.88,1010.50) scale(0.95,1)" font-size="10" text-anchor="middle" fill="#636363">40</text>
<text x="0" y="0" transform="translate(573.00,1010.50) scale(0.95,1)" font-size="10" text-anchor="middle" fill="#636363">118</text>
<text x="0" y="0" transform="translate(602.00,1010.50) scale(0.95,1)" font-size="10" text-anchor="middle" fill="#636363">135</text>
<text x="0" y="0" transform="translate(633.00,1010.50) scale(0.95,1)" font-size="10" text-anchor="middle" fill="#636363">136</text>
<text x="0" y="0" transform="translate(660.50,1010.50) scale(0.95,1)" font-size="10" text-anchor="middle" fill="#636363">14</text>
<text x="0" y="0" transform="translate(687.70,1010.50) scale(0.95,1)" font-size="10" text-anchor="middle" fill="#636363">19</text>
<text x="0" y="0" transform="translate(722.70,1010.50) scale(0.95,1)" font-size="10" text-anchor="middle" fill="#636363">3200</text>
<text x="0" y="0" transform="translate(766.60,1010.50) scale(0.95,1)" font-size="10" text-anchor="middle" fill="#636363">110</text>
</svg>
</body></html>
